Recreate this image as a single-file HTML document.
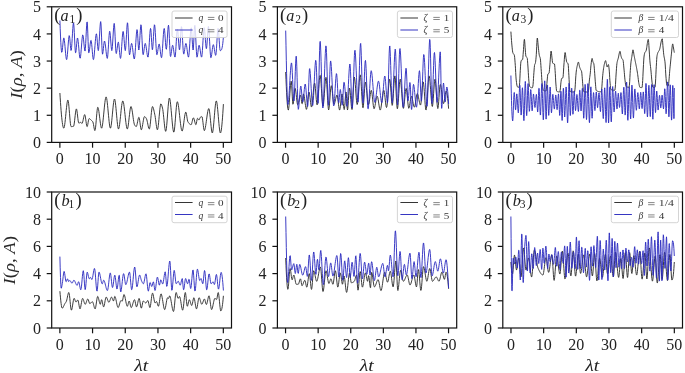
<!DOCTYPE html><html><head><meta charset="utf-8"><style>html,body{margin:0;padding:0;background:#fff;}svg{display:block;will-change:transform;}</style></head><body>
<svg width="685" height="373" viewBox="0 0 685 373" font-family="'Liberation Serif', serif">
<rect width="685" height="373" fill="#fff"/>
<polyline points="59.90,93.00 60.20,97.88 60.50,102.45 60.80,106.69 61.10,110.59 61.40,114.14 61.70,117.32 62.00,120.13 62.30,122.54 62.60,124.54 62.90,126.12 63.20,127.27 63.50,127.96 63.80,128.20 64.10,127.77 64.40,126.57 64.70,124.73 65.00,122.39 65.30,119.67 65.60,116.71 65.90,113.64 66.20,110.59 66.50,107.69 66.80,105.08 67.10,102.89 67.40,101.25 67.70,100.29 68.00,100.18 68.30,101.24 68.60,103.35 68.90,106.25 69.20,109.67 69.50,113.35 69.80,117.03 70.10,120.45 70.40,123.35 70.70,125.46 71.00,126.52 71.30,126.60 71.60,126.59 71.90,126.58 72.20,126.56 72.50,126.53 72.80,126.50 73.10,126.46 73.40,126.42 73.70,126.13 74.00,124.96 74.30,123.07 74.60,120.69 74.90,118.04 75.20,115.36 75.50,112.88 75.80,110.82 76.10,109.42 76.40,108.90 76.70,109.51 77.00,111.12 77.30,113.39 77.60,116.00 77.90,118.61 78.20,120.88 78.50,122.49 78.80,123.10 79.10,123.05 79.40,122.93 79.70,122.78 80.00,122.62 80.30,122.48 80.60,122.41 80.90,122.46 81.20,122.73 81.50,123.07 81.80,123.34 82.10,123.36 82.40,122.88 82.70,121.93 83.00,120.67 83.30,119.24 83.60,117.79 83.90,116.46 84.20,115.39 84.50,114.74 84.80,114.66 85.10,115.49 85.40,117.07 85.70,119.11 86.00,121.35 86.30,123.49 86.60,125.25 86.90,126.36 87.20,126.54 87.50,125.77 87.80,124.35 88.10,122.60 88.40,120.85 88.70,119.43 89.00,118.66 89.30,118.63 89.60,118.75 89.90,118.96 90.20,119.22 90.50,119.51 90.80,119.82 91.10,120.11 91.40,120.37 91.70,120.61 92.00,120.86 92.30,121.15 92.60,121.51 92.90,122.00 93.20,123.05 93.50,124.57 93.80,126.32 94.10,128.04 94.40,129.48 94.70,130.40 95.00,130.52 95.30,129.39 95.60,127.18 95.90,124.20 96.20,120.75 96.50,117.15 96.80,113.70 97.10,110.72 97.40,108.51 97.70,107.38 98.00,107.47 98.30,108.29 98.60,109.69 98.90,111.54 99.20,113.72 99.50,116.11 99.80,118.57 100.10,121.00 100.40,123.26 100.70,125.24 101.00,126.80 101.30,127.83 101.60,128.20 101.90,127.80 102.20,126.68 102.50,124.94 102.80,122.71 103.10,120.09 103.40,117.18 103.70,114.11 104.00,110.99 104.30,107.92 104.60,105.01 104.90,102.39 105.20,100.16 105.50,98.42 105.80,97.30 106.10,96.90 106.40,97.34 106.70,98.56 107.00,100.44 107.30,102.85 107.60,105.67 107.90,108.76 108.20,112.00 108.50,115.27 108.80,118.42 109.10,121.35 109.40,123.91 109.70,125.98 110.00,127.44 110.30,128.15 110.60,128.00 110.90,127.00 111.20,125.30 111.50,123.02 111.80,120.31 112.10,117.30 112.40,114.13 112.70,110.94 113.00,107.87 113.30,105.04 113.60,102.60 113.90,100.69 114.20,99.45 114.50,99.00 114.80,99.48 115.10,100.82 115.40,102.87 115.70,105.48 116.00,108.49 116.30,111.76 116.60,115.12 116.90,118.44 117.20,121.55 117.50,124.31 117.80,126.57 118.10,128.16 118.40,128.94 118.70,128.82 119.00,127.95 119.30,126.44 119.60,124.42 119.90,122.00 120.20,119.30 120.50,116.42 120.80,113.48 121.10,110.60 121.40,107.90 121.70,105.48 122.00,103.46 122.30,101.95 122.60,101.08 122.90,100.94 123.20,101.53 123.50,102.73 123.80,104.45 124.10,106.58 124.40,109.03 124.70,111.70 125.00,114.48 125.30,117.28 125.60,120.00 125.90,122.53 126.20,124.78 126.50,126.65 126.80,128.04 127.10,128.84 127.40,128.95 127.70,128.27 128.00,126.89 128.30,124.96 128.60,122.62 128.90,120.02 129.20,117.29 129.50,114.60 129.80,112.06 130.10,109.85 130.40,108.08 130.70,106.92 131.00,106.50 131.30,106.83 131.60,107.74 131.90,109.13 132.20,110.89 132.50,112.90 132.80,115.06 133.10,117.25 133.40,119.38 133.70,121.33 134.00,122.99 134.30,124.25 134.60,125.00 134.90,125.45 135.20,125.87 135.50,126.21 135.80,126.47 136.10,126.59 136.40,126.45 136.70,125.76 137.00,124.63 137.30,123.23 137.60,121.69 137.90,120.18 138.20,118.85 138.50,117.85 138.80,117.34 139.10,117.55 139.40,118.70 139.70,120.54 140.00,122.77 140.30,125.10 140.60,127.23 140.90,128.87 141.20,129.74 141.50,129.65 141.80,128.93 142.10,127.74 142.40,126.19 142.70,124.43 143.00,122.58 143.30,120.78 143.60,119.15 143.90,117.82 144.20,116.93 144.50,116.60 144.80,116.67 145.10,116.87 145.40,117.17 145.70,117.55 146.00,117.98 146.30,118.44 146.60,119.01 146.90,119.96 147.20,121.20 147.50,122.62 147.80,124.12 148.10,125.59 148.40,126.92 148.70,128.00 149.00,128.73 149.30,129.00 149.60,128.44 149.90,126.92 150.20,124.66 150.50,121.88 150.80,118.80 151.10,115.65 151.40,112.65 151.70,110.02 152.00,107.98 152.30,106.75 152.60,106.53 152.90,106.90 153.20,107.65 153.50,108.69 153.80,109.94 154.10,111.32 154.40,112.76 154.70,114.16 155.00,115.60 155.30,117.50 155.60,119.71 155.90,122.06 156.20,124.38 156.50,126.49 156.80,128.21 157.10,129.37 157.40,129.80 157.70,129.26 158.00,127.77 158.30,125.53 158.60,122.73 158.90,119.57 159.20,116.24 159.50,112.95 159.80,109.89 160.10,107.25 160.40,105.24 160.70,104.04 161.00,103.83 161.30,104.19 161.60,104.91 161.90,105.86 162.20,106.96 162.50,108.10 162.80,109.60 163.10,111.73 163.40,114.33 163.70,117.22 164.00,120.24 164.30,123.21 164.60,125.96 164.90,128.32 165.20,130.12 165.50,131.18 165.80,131.33 166.10,130.31 166.40,128.27 166.70,125.40 167.00,121.93 167.30,118.06 167.60,114.02 167.90,110.02 168.20,106.26 168.50,102.97 168.80,100.35 169.10,98.62 169.40,98.00 169.70,98.46 170.00,99.73 170.30,101.71 170.60,104.24 170.90,107.21 171.20,110.49 171.50,113.93 171.80,117.43 172.10,120.83 172.40,124.02 172.70,126.86 173.00,129.22 173.30,130.98 173.60,131.99 173.90,132.13 174.20,131.10 174.50,129.03 174.80,126.15 175.10,122.70 175.40,118.91 175.70,114.99 176.00,111.20 176.30,107.75 176.60,104.87 176.90,102.80 177.20,101.77 177.50,101.85 177.80,102.59 178.10,103.88 178.40,105.62 178.70,107.74 179.00,110.15 179.30,112.76 179.60,115.48 179.90,118.23 180.20,120.93 180.50,123.48 180.80,125.80 181.10,127.80 181.40,129.41 181.70,130.52 182.00,131.06 182.30,130.94 182.60,130.15 182.90,128.82 183.20,127.06 183.50,125.00 183.80,122.75 184.10,120.45 184.40,118.20 184.70,116.14 185.00,114.38 185.30,113.05 185.60,112.26 185.90,112.16 186.20,112.92 186.50,114.37 186.80,116.21 187.10,118.16 187.40,119.95 187.70,121.29 188.00,121.96 188.30,122.41 188.60,122.83 188.90,123.22 189.20,123.58 189.50,123.89 189.80,124.15 190.10,124.37 190.40,124.53 190.70,124.64 191.00,124.70 191.30,124.55 191.60,123.86 191.90,122.78 192.20,121.47 192.50,120.14 192.80,118.96 193.10,118.12 193.40,117.80 193.70,118.07 194.00,118.80 194.30,119.84 194.60,121.04 194.90,122.27 195.20,123.38 195.50,124.23 195.80,124.67 196.10,124.43 196.40,123.22 196.70,121.50 197.00,119.78 197.30,118.58 197.60,118.32 197.90,118.60 198.20,119.07 198.50,119.56 198.80,119.92 199.10,119.96 199.40,119.45 199.70,118.62 200.00,117.80 200.30,117.30 200.60,117.09 200.90,116.91 201.20,116.76 201.50,116.65 201.80,116.60 202.10,116.88 202.40,118.17 202.70,120.23 203.00,122.73 203.30,125.33 203.60,127.72 203.90,129.56 204.20,130.53 204.50,130.47 204.80,129.85 205.10,128.76 205.40,127.30 205.70,125.54 206.00,123.55 206.30,121.43 206.60,119.23 206.90,117.05 207.20,114.97 207.50,113.05 207.80,111.38 208.10,110.03 208.40,109.09 208.70,108.63 209.00,108.83 209.30,109.95 209.60,111.84 209.90,114.32 210.20,117.19 210.50,120.28 210.80,123.40 211.10,126.36 211.40,128.99 211.70,131.09 212.00,132.49 212.30,133.00 212.60,132.49 212.90,131.05 213.20,128.86 213.50,126.07 213.80,122.84 214.10,119.35 214.40,115.75 214.70,112.20 215.00,108.87 215.30,105.92 215.60,103.51 215.90,101.80 216.20,100.96 216.50,101.12 216.80,102.22 217.10,104.09 217.40,106.59 217.70,109.57 218.00,112.88 218.30,116.36 218.60,119.87 218.90,123.25 219.20,126.36 219.50,129.04 219.80,131.14 220.10,132.51 220.40,133.00 220.70,132.65 221.00,131.63 221.30,129.97 221.60,127.73 221.90,124.93 222.20,121.62 222.50,117.84 222.80,113.64 223.10,109.04 223.40,104.10" fill="none" stroke="#2a2a2a" stroke-width="0.92" stroke-linejoin="round"/>
<polyline points="59.90,20.50 60.20,28.70 60.50,36.04 60.80,42.30 61.10,47.24 61.40,50.65 61.70,52.29 62.00,51.99 62.30,50.13 62.60,47.30 62.90,44.07 63.20,41.03 63.50,38.78 63.80,37.90 64.10,38.60 64.40,40.47 64.70,43.21 65.00,46.48 65.30,49.97 65.60,53.34 65.90,56.29 66.20,58.49 66.50,59.62 66.80,59.32 67.10,57.52 67.40,54.59 67.70,50.92 68.00,46.93 68.30,43.00 68.60,39.54 68.90,36.94 69.20,35.60 69.50,36.02 69.80,38.35 70.10,41.80 70.40,45.53 70.70,48.69 71.00,50.47 71.30,50.05 71.60,47.48 71.90,43.39 72.20,38.43 72.50,33.26 72.80,28.52 73.10,24.86 73.40,22.94 73.70,23.57 74.00,27.12 74.30,32.61 74.60,38.98 74.90,45.17 75.20,50.13 75.50,52.80 75.80,52.53 76.10,50.41 76.40,47.22 76.70,43.68 77.00,40.49 77.30,38.37 77.60,37.99 77.90,39.21 78.20,41.56 78.50,44.66 78.80,48.15 79.10,51.64 79.40,54.74 79.70,57.09 80.00,58.31 80.30,58.03 80.60,56.28 80.90,53.43 81.20,49.88 81.50,46.00 81.80,42.18 82.10,38.82 82.40,36.29 82.70,34.99 83.00,35.28 83.30,37.04 83.60,39.80 83.90,43.05 84.20,46.30 84.50,49.06 84.80,50.82 85.10,51.01 85.40,48.39 85.70,43.53 86.00,37.46 86.30,31.21 86.60,25.83 86.90,22.35 87.20,21.91 87.50,26.00 87.80,33.19 88.10,41.41 88.40,48.60 88.70,52.69 89.00,52.70 89.30,51.33 89.60,49.18 89.90,46.65 90.20,44.12 90.50,41.97 90.80,40.60 91.10,40.40 91.40,41.74 91.70,44.29 92.00,47.60 92.30,51.21 92.60,54.67 92.90,57.52 93.20,59.32 93.50,59.62 93.80,58.44 94.10,56.11 94.40,52.96 94.70,49.28 95.00,45.40 95.30,41.62 95.60,38.26 95.90,35.63 96.20,34.03 96.50,33.84 96.80,35.63 97.10,38.89 97.40,42.82 97.70,46.61 98.00,49.47 98.30,50.60 98.60,49.35 98.90,46.07 99.20,41.42 99.50,36.10 99.80,30.78 100.10,26.13 100.40,22.85 100.70,21.60 101.00,24.01 101.30,30.05 101.60,37.90 101.90,45.75 102.20,51.79 102.50,54.20 102.80,53.40 103.10,51.35 103.40,48.59 103.70,45.65 104.00,43.06 104.30,41.37 104.60,41.06 104.90,41.96 105.20,43.72 105.50,46.07 105.80,48.77 106.10,51.55 106.40,54.16 106.70,56.35 107.00,57.84 107.30,58.40 107.60,57.24 107.90,54.17 108.20,49.83 108.50,44.85 108.80,39.87 109.10,35.53 109.40,32.46 109.70,31.30 110.00,32.37 110.30,35.13 110.60,38.90 110.90,43.00 111.20,46.77 111.50,49.53 111.80,50.60 112.10,49.43 112.40,46.35 112.70,41.99 113.00,37.00 113.30,32.01 113.60,27.65 113.90,24.57 114.20,23.40 114.50,25.23 114.80,29.92 115.10,36.24 115.40,42.97 115.70,48.88 116.00,52.75 116.30,53.52 116.60,52.51 116.90,50.62 117.20,48.26 117.50,45.84 117.80,43.75 118.10,42.39 118.40,42.20 118.70,43.52 119.00,46.00 119.30,49.14 119.60,52.45 119.90,55.42 120.20,57.57 120.50,58.40 120.80,57.40 121.10,54.74 121.40,50.91 121.70,46.41 122.00,41.75 122.30,37.42 122.60,33.92 122.90,31.76 123.20,31.42 123.50,32.98 123.80,35.92 124.10,39.64 124.40,43.55 124.70,47.08 125.00,49.62 125.30,50.60 125.60,49.18 125.90,45.49 126.20,40.38 126.50,34.70 126.80,29.30 127.10,25.04 127.40,22.77 127.70,23.50 128.00,27.63 128.30,33.93 128.60,41.11 128.90,47.84 129.20,52.84 129.50,54.80 129.80,54.17 130.10,52.54 130.40,50.31 130.70,47.89 131.00,45.66 131.30,44.03 131.60,43.40 131.90,43.93 132.20,45.37 132.50,47.44 132.80,49.91 133.10,52.49 133.40,54.96 133.70,57.03 134.00,58.47 134.30,59.00 134.60,58.06 134.90,55.52 135.20,51.82 135.50,47.39 135.80,42.67 136.10,38.10 136.40,34.11 136.70,31.13 137.00,29.61 137.30,30.28 137.60,33.78 137.90,38.85 138.20,44.14 138.50,48.31 138.80,50.00 139.10,48.71 139.40,45.36 139.70,40.73 140.00,35.57 140.30,30.68 140.60,26.81 140.90,24.75 141.20,25.37 141.50,28.92 141.80,34.41 142.10,40.78 142.40,46.97 142.70,51.93 143.00,54.60 143.30,54.51 143.60,53.17 143.90,51.10 144.20,48.69 144.50,46.36 144.80,44.48 145.10,43.48 145.40,43.60 145.70,44.56 146.00,46.14 146.30,48.12 146.60,50.30 146.90,52.48 147.20,54.46 147.50,56.04 147.80,57.00 148.10,57.08 148.40,55.36 148.70,52.04 149.00,47.66 149.30,42.75 149.60,37.84 149.90,33.46 150.20,30.14 150.50,28.42 150.80,29.04 151.10,32.39 151.40,37.35 151.70,42.71 152.00,47.26 152.30,49.81 152.60,49.35 152.90,46.37 153.20,41.75 153.50,36.39 153.80,31.19 154.10,27.01 154.40,24.77 154.70,25.19 155.00,27.99 155.30,32.43 155.60,37.82 155.90,43.44 156.20,48.59 156.50,52.56 156.80,54.65 157.10,54.55 157.40,53.38 157.70,51.55 158.00,49.40 158.30,47.25 158.60,45.42 158.90,44.25 159.20,44.07 159.50,45.02 159.80,46.84 160.10,49.19 160.40,51.76 160.70,54.22 161.00,56.25 161.30,57.53 161.60,57.68 161.90,56.05 162.20,52.88 162.50,48.66 162.80,43.87 163.10,39.00 163.40,34.53 163.70,30.96 164.00,28.76 164.30,28.44 164.60,30.30 164.90,33.77 165.20,38.10 165.50,42.55 165.80,46.38 166.10,48.86 166.40,49.25 166.70,47.29 167.00,43.61 167.30,38.95 167.60,34.04 167.90,29.62 168.20,26.43 168.50,25.20 168.80,27.11 169.10,31.98 169.40,38.55 169.70,45.55 170.00,51.69 170.30,55.72 170.60,56.52 170.90,55.52 171.20,53.64 171.50,51.31 171.80,48.90 172.10,46.83 172.40,45.49 172.70,45.26 173.00,46.09 173.30,47.67 173.60,49.71 173.90,51.95 174.20,54.09 174.50,55.85 174.80,56.96 175.10,57.06 175.40,55.10 175.70,51.38 176.00,46.55 176.30,41.29 176.60,36.24 176.90,32.07 177.20,29.46 177.50,29.04 177.80,30.90 178.10,34.37 178.40,38.70 178.70,43.15 179.00,46.98 179.30,49.46 179.60,49.83 179.90,47.56 180.20,43.38 180.50,38.25 180.80,33.12 181.10,28.94 181.40,26.67 181.70,27.15 182.00,30.14 182.30,34.82 182.60,40.35 182.90,45.88 183.20,50.56 183.50,53.55 183.80,54.14 184.10,53.26 184.40,51.62 184.70,49.53 185.00,47.34 185.30,45.37 185.60,43.95 185.90,43.40 186.20,43.91 186.50,45.27 186.80,47.22 187.10,49.51 187.40,51.88 187.70,54.08 188.00,55.87 188.30,56.97 188.60,57.08 188.90,55.45 189.20,52.28 189.50,48.06 189.80,43.27 190.10,38.40 190.40,33.93 190.70,30.36 191.00,28.16 191.30,27.88 191.60,30.25 191.90,34.55 192.20,39.73 192.50,44.73 192.80,48.51 193.10,50.00 193.40,47.96 193.70,42.91 194.00,36.51 194.30,30.37 194.60,26.15 194.90,25.39 195.20,27.99 195.50,32.86 195.80,39.02 196.10,45.52 196.40,51.36 196.70,55.58 197.00,57.20 197.30,56.54 197.60,54.82 197.90,52.48 198.20,49.92 198.50,47.58 198.80,45.86 199.10,45.20 199.40,45.68 199.70,46.94 200.00,48.75 200.30,50.84 200.60,52.98 200.90,54.90 201.20,56.38 201.50,57.14 201.80,56.70 202.10,54.35 202.40,50.54 202.70,45.83 203.00,40.75 203.30,35.86 203.60,31.69 203.90,28.79 204.20,27.70 204.50,28.77 204.80,31.55 205.10,35.40 205.40,39.68 205.70,43.75 206.00,46.96 206.30,48.67 206.60,48.18 206.90,45.32 207.20,40.95 207.50,35.98 207.80,31.32 208.10,27.85 208.40,26.50 208.70,27.74 209.00,31.04 209.30,35.75 209.60,41.21 209.90,46.78 210.20,51.81 210.50,55.65 210.80,57.65 211.10,57.54 211.40,56.32 211.70,54.38 212.00,52.02 212.30,49.57 212.60,47.31 212.90,45.58 213.20,44.67 213.50,44.81 213.80,45.81 214.10,47.40 214.40,49.33 214.70,51.34 215.00,53.18 215.30,54.60 215.60,55.35 215.90,54.87 216.20,52.36 216.50,48.37 216.80,43.54 217.10,38.49 217.40,33.87 217.70,30.31 218.00,28.44 218.30,28.87 218.60,31.49 218.90,35.54 219.20,40.25 219.50,44.82 219.80,48.48 220.10,50.45 220.40,50.60 220.70,50.55 221.00,50.39 221.30,50.05 221.60,49.46 221.90,48.56 222.20,47.28 222.50,45.55 222.80,43.31 223.10,40.48 223.40,37.00" fill="none" stroke="#2b2bbf" stroke-width="0.92" stroke-linejoin="round"/>
<rect x="51.70" y="6.80" width="179.80" height="135.60" fill="none" stroke="#111" stroke-width="1.2"/>
<line x1="59.87" y1="142.40" x2="59.87" y2="147.70" stroke="#111" stroke-width="1.2"/>
<text x="59.87" y="164.20" font-size="16" text-anchor="middle" fill="#222">0</text>
<line x1="92.56" y1="142.40" x2="92.56" y2="147.70" stroke="#111" stroke-width="1.2"/>
<text x="92.56" y="164.20" font-size="16" text-anchor="middle" fill="#222">10</text>
<line x1="125.25" y1="142.40" x2="125.25" y2="147.70" stroke="#111" stroke-width="1.2"/>
<text x="125.25" y="164.20" font-size="16" text-anchor="middle" fill="#222">20</text>
<line x1="157.95" y1="142.40" x2="157.95" y2="147.70" stroke="#111" stroke-width="1.2"/>
<text x="157.95" y="164.20" font-size="16" text-anchor="middle" fill="#222">30</text>
<line x1="190.64" y1="142.40" x2="190.64" y2="147.70" stroke="#111" stroke-width="1.2"/>
<text x="190.64" y="164.20" font-size="16" text-anchor="middle" fill="#222">40</text>
<line x1="223.33" y1="142.40" x2="223.33" y2="147.70" stroke="#111" stroke-width="1.2"/>
<text x="223.33" y="164.20" font-size="16" text-anchor="middle" fill="#222">50</text>
<line x1="46.70" y1="142.40" x2="51.70" y2="142.40" stroke="#111" stroke-width="1.2"/>
<text x="40.90" y="148.00" font-size="16" text-anchor="end" fill="#222">0</text>
<line x1="46.70" y1="115.28" x2="51.70" y2="115.28" stroke="#111" stroke-width="1.2"/>
<text x="40.90" y="120.88" font-size="16" text-anchor="end" fill="#222">1</text>
<line x1="46.70" y1="88.16" x2="51.70" y2="88.16" stroke="#111" stroke-width="1.2"/>
<text x="40.90" y="93.76" font-size="16" text-anchor="end" fill="#222">2</text>
<line x1="46.70" y1="61.04" x2="51.70" y2="61.04" stroke="#111" stroke-width="1.2"/>
<text x="40.90" y="66.64" font-size="16" text-anchor="end" fill="#222">3</text>
<line x1="46.70" y1="33.92" x2="51.70" y2="33.92" stroke="#111" stroke-width="1.2"/>
<text x="40.90" y="39.52" font-size="16" text-anchor="end" fill="#222">4</text>
<line x1="46.70" y1="6.80" x2="51.70" y2="6.80" stroke="#111" stroke-width="1.2"/>
<text x="40.90" y="12.40" font-size="16" text-anchor="end" fill="#222">5</text>
<text x="54.30" y="21.20" font-size="18.5" fill="#222">(</text>
<text x="60.60" y="20.60" font-size="16.2" font-style="italic" fill="#222">a</text>
<text x="69.50" y="22.70" font-size="11.5" fill="#222">1</text>
<text x="76.20" y="20.60" font-size="18.5" fill="#222">)</text>
<polyline points="285.70,72.00 286.00,79.58 286.30,86.49 286.60,92.66 286.90,98.01 287.20,102.47 287.50,105.98 287.80,108.46 288.10,109.83 288.40,110.00 288.70,108.60 289.00,105.85 289.30,102.14 289.60,97.85 289.90,93.36 290.20,89.07 290.50,85.35 290.80,82.60 291.10,81.20 291.40,81.93 291.70,85.65 292.00,91.11 292.30,96.95 292.60,101.79 292.90,104.26 293.20,103.80 293.50,101.82 293.80,98.89 294.10,95.56 294.40,92.34 294.70,89.78 295.00,88.40 295.30,88.57 295.60,89.88 295.90,91.98 296.20,94.60 296.50,97.41 296.80,100.13 297.10,102.46 297.40,104.09 297.70,104.73 298.00,104.44 298.30,103.61 298.60,102.39 298.90,100.93 299.20,99.37 299.50,97.85 299.80,96.53 300.10,95.54 300.40,95.04 300.70,95.38 301.00,97.05 301.30,99.42 301.60,101.80 301.90,103.48 302.20,103.73 302.50,101.92 302.80,98.94 303.10,95.96 303.40,94.14 303.70,94.20 304.00,95.15 304.30,96.73 304.60,98.74 304.90,100.99 305.20,103.31 305.50,105.49 305.80,107.36 306.10,108.72 306.40,109.40 306.70,109.08 307.00,107.56 307.30,105.15 307.60,102.21 307.90,99.10 308.20,96.18 308.50,93.80 308.80,92.31 309.10,92.07 309.40,93.03 309.70,94.88 310.00,97.30 310.30,99.97 310.60,102.60 310.90,104.87 311.20,106.46 311.50,107.06 311.80,106.44 312.10,104.73 312.40,102.19 312.70,99.08 313.00,95.67 313.30,92.22 313.60,88.98 313.90,86.22 314.20,84.19 314.50,83.17 314.80,83.49 315.10,85.35 315.40,88.33 315.70,91.98 316.00,95.87 316.30,99.55 316.60,102.57 316.90,104.49 317.20,104.86 317.50,103.57 317.80,100.95 318.10,97.35 318.40,93.14 318.70,88.68 319.00,84.33 319.30,80.46 319.60,77.42 319.90,75.58 320.20,75.31 320.50,76.82 320.80,79.78 321.10,83.77 321.40,88.39 321.70,93.21 322.00,97.83 322.30,101.82 322.60,104.78 322.90,106.29 323.20,106.03 323.50,104.24 323.80,101.28 324.10,97.50 324.40,93.26 324.70,88.90 325.00,84.77 325.30,81.23 325.60,78.62 325.90,77.30 326.20,77.74 326.50,80.30 326.80,84.44 327.10,89.59 327.40,95.16 327.70,100.56 328.00,105.21 328.30,108.53 328.60,109.94 328.90,109.27 329.20,107.12 329.50,103.92 329.80,100.07 330.10,96.00 330.40,92.11 330.70,88.83 331.00,86.55 331.30,85.70 331.60,86.34 331.90,88.05 332.20,90.53 332.50,93.48 332.80,96.58 333.10,99.53 333.40,102.02 333.70,103.75 334.00,104.41 334.30,104.15 334.60,103.44 334.90,102.39 335.20,101.11 335.50,99.72 335.80,98.32 336.10,97.04 336.40,95.98 336.70,95.26 337.00,95.00 337.30,95.56 337.60,97.04 337.90,99.17 338.20,101.67 338.50,104.27 338.80,106.68 339.10,108.63 339.40,109.84 339.70,110.02 340.00,108.92 340.30,106.80 340.60,104.06 340.90,101.06 341.20,98.18 341.50,95.81 341.80,94.32 342.10,94.09 342.40,95.30 342.70,97.58 343.00,100.49 343.30,103.58 343.60,106.43 343.90,108.57 344.20,109.58 344.50,108.65 344.80,105.51 345.10,101.21 345.40,96.81 345.70,93.38 346.00,92.00 346.30,93.90 346.60,98.42 346.90,103.80 347.20,108.26 347.50,110.02 347.80,108.61 348.10,105.16 348.40,100.56 348.70,95.68 349.00,91.41 349.30,88.61 349.60,88.10 349.90,89.49 350.20,92.15 350.50,95.63 350.80,99.48 351.10,103.25 351.40,106.49 351.70,108.73 352.00,109.53 352.30,107.93 352.60,103.92 352.90,98.36 353.20,92.10 353.50,86.00 353.80,80.91 354.10,77.69 354.40,77.10 354.70,78.44 355.00,81.07 355.30,84.62 355.60,88.72 355.90,93.00 356.20,97.09 356.50,100.63 356.80,103.24 357.10,104.56 357.40,104.25 357.70,102.39 358.00,99.35 358.30,95.47 358.60,91.13 358.90,86.66 359.20,82.44 359.50,78.82 359.80,76.15 360.10,74.80 360.40,75.19 360.70,77.55 361.00,81.40 361.30,86.23 361.60,91.55 361.90,96.85 362.20,101.62 362.50,105.37 362.80,107.58 363.10,107.77 363.40,105.86 363.70,102.42 364.00,98.01 364.30,93.24 364.60,88.69 364.90,84.95 365.20,82.60 365.50,82.17 365.80,83.11 366.10,84.98 366.40,87.54 366.70,90.54 367.00,93.75 367.30,96.93 367.60,99.83 367.90,102.22 368.20,103.86 368.50,104.51 368.80,104.10 369.10,102.90 369.40,101.13 369.70,98.99 370.00,96.71 370.30,94.49 370.60,92.55 370.90,91.10 371.20,90.35 371.50,90.58 371.80,91.93 372.10,94.12 372.40,96.86 372.70,99.86 373.00,102.83 373.30,105.48 373.60,107.50 373.90,108.60 374.20,108.62 374.50,107.98 374.80,106.87 375.10,105.41 375.40,103.73 375.70,101.96 376.00,100.23 376.30,98.66 376.60,97.38 376.90,96.52 377.20,96.20 377.50,96.59 377.80,97.63 378.10,99.18 378.40,101.06 378.70,103.10 379.00,105.15 379.30,107.04 379.60,108.60 379.90,109.68 380.20,110.09 380.50,109.73 380.80,108.67 381.10,107.06 381.40,105.02 381.70,102.70 382.00,100.25 382.30,97.79 382.60,95.46 382.90,93.41 383.20,91.78 383.50,90.69 383.80,90.30 384.10,90.88 384.40,92.43 384.70,94.67 385.00,97.34 385.30,100.17 385.60,102.87 385.90,105.17 386.20,106.80 386.50,107.49 386.80,106.92 387.10,105.08 387.40,102.27 387.70,98.76 388.00,94.85 388.30,90.83 388.60,86.99 388.90,83.62 389.20,81.00 389.50,79.43 389.80,79.22 390.10,80.84 390.40,83.96 390.70,88.06 391.00,92.64 391.30,97.18 391.60,101.16 391.90,104.07 392.20,105.40 392.50,104.70 392.80,102.15 393.10,98.28 393.40,93.59 393.70,88.59 394.00,83.81 394.30,79.76 394.60,76.95 394.90,75.90 395.20,77.26 395.50,80.85 395.80,85.96 396.10,91.85 396.40,97.81 396.70,103.10 397.00,107.01 397.30,108.81 397.60,108.22 397.90,105.97 398.20,102.51 398.50,98.25 398.80,93.60 399.10,88.99 399.40,84.82 399.70,81.53 400.00,79.52 400.30,79.18 400.60,80.36 400.90,82.70 401.20,85.92 401.50,89.71 401.80,93.79 402.10,97.87 402.40,101.67 402.70,104.88 403.00,107.21 403.30,108.38 403.60,108.15 403.90,106.64 404.20,104.20 404.50,101.14 404.80,97.82 405.10,94.54 405.40,91.66 405.70,89.50 406.00,88.38 406.30,88.61 406.60,90.09 406.90,92.51 407.20,95.52 407.50,98.82 407.80,102.06 408.10,104.93 408.40,107.10 408.70,108.24 409.00,108.15 409.30,107.20 409.60,105.64 409.90,103.70 410.20,101.60 410.50,99.58 410.80,97.85 411.10,96.65 411.40,96.20 411.70,96.51 412.00,97.36 412.30,98.61 412.60,100.13 412.90,101.77 413.20,103.41 413.50,104.91 413.80,106.12 414.10,106.93 414.40,107.18 414.70,106.71 415.00,105.58 415.30,103.96 415.60,102.02 415.90,99.95 416.20,97.91 416.50,96.09 416.80,94.65 417.10,93.78 417.40,93.63 417.70,94.10 418.00,95.02 418.30,96.28 418.60,97.77 418.90,99.38 419.20,100.98 419.50,102.47 419.80,103.73 420.10,104.64 420.40,105.09 420.70,104.73 421.00,102.98 421.30,100.14 421.60,96.61 421.90,92.77 422.20,89.00 422.50,85.67 422.80,83.18 423.10,81.89 423.40,82.22 423.70,84.21 424.00,87.47 424.30,91.57 424.60,96.08 424.90,100.58 425.20,104.64 425.50,107.84 425.80,109.75 426.10,109.96 426.40,108.43 426.70,105.51 427.00,101.56 427.30,96.95 427.60,92.04 427.90,87.21 428.20,82.81 428.50,79.21 428.80,76.79 429.10,75.90 429.40,76.65 429.70,78.70 430.00,81.76 430.30,85.52 430.60,89.69 430.90,93.97 431.20,98.05 431.50,101.65 431.80,104.46 432.10,106.17 432.40,106.49 432.70,105.04 433.00,102.13 433.30,98.20 433.60,93.72 433.90,89.16 434.20,84.97 434.50,81.60 434.80,79.53 435.10,79.21 435.40,80.70 435.70,83.62 436.00,87.54 436.30,92.04 436.60,96.71 436.90,101.11 437.20,104.84 437.50,107.46 437.80,108.56 438.10,107.77 438.40,105.31 438.70,101.69 439.00,97.44 439.30,93.08 439.60,89.13 439.90,86.10 440.20,84.52 440.50,84.61 440.80,85.65 441.10,87.37 441.40,89.60 441.70,92.14 442.00,94.81 442.30,97.43 442.60,99.81 442.90,101.75 443.20,103.08 443.50,103.61 443.80,103.23 444.10,102.09 444.40,100.42 444.70,98.43 445.00,96.32 445.30,94.31 445.60,92.61 445.90,91.44 446.20,91.00 446.50,91.33 446.80,92.29 447.10,93.84 447.40,95.93 447.70,98.50 448.00,101.52 448.30,104.93 448.60,108.70 448.60,108.70" fill="none" stroke="#2a2a2a" stroke-width="0.92" stroke-linejoin="round"/>
<polyline points="285.70,30.60 286.00,45.76 286.30,60.31 286.60,73.70 286.90,85.38 287.20,94.78 287.50,101.36 287.80,104.58 288.10,104.43 288.40,102.59 288.70,99.50 289.00,95.43 289.30,90.68 289.60,85.55 289.90,80.31 290.20,75.28 290.50,70.72 290.80,66.95 291.10,64.24 291.40,62.90 291.70,63.55 292.00,67.08 292.30,72.69 292.60,79.51 292.90,86.64 293.20,93.20 293.50,98.29 293.80,101.02 294.10,100.39 294.40,95.97 294.70,88.89 295.00,80.37 295.30,71.62 295.60,63.86 295.90,58.32 296.20,56.20 296.50,59.17 296.80,66.84 297.10,77.30 297.40,88.67 297.70,99.07 298.00,106.59 298.30,109.35 298.60,108.37 298.90,105.88 299.20,102.36 299.50,98.30 299.80,94.16 300.10,90.43 300.40,87.59 300.70,86.11 301.00,86.48 301.30,88.66 301.60,91.97 301.90,95.68 302.20,99.09 302.50,101.48 302.80,102.14 303.10,101.13 303.40,98.96 303.70,96.04 304.00,92.76 304.30,89.52 304.60,86.72 304.90,84.75 305.20,84.00 305.50,84.92 305.80,87.35 306.10,90.82 306.40,94.82 306.70,98.89 307.00,102.52 307.30,105.23 307.60,106.54 307.90,105.09 308.20,99.54 308.50,91.50 308.80,82.70 309.10,74.84 309.40,69.64 309.70,68.62 310.00,70.28 310.30,73.55 310.60,78.00 310.90,83.20 311.20,88.69 311.50,94.06 311.80,98.87 312.10,102.67 312.40,105.03 312.70,105.52 313.00,103.82 313.30,100.28 313.60,95.34 313.90,89.47 314.20,83.13 314.50,76.77 314.80,70.85 315.10,65.84 315.40,62.18 315.70,60.33 316.00,61.17 316.30,65.67 316.60,72.74 316.90,81.15 317.20,89.65 317.50,97.02 317.80,102.02 318.10,103.36 318.40,98.59 318.70,88.58 319.00,75.65 319.30,62.15 319.60,50.40 319.90,42.76 320.20,41.36 320.50,44.99 320.80,52.03 321.10,61.45 321.40,72.16 321.70,83.10 322.00,93.22 322.30,101.45 322.60,106.72 322.90,108.01 323.20,105.77 323.50,100.95 323.80,94.19 324.10,86.12 324.40,77.38 324.70,68.61 325.00,60.43 325.30,53.50 325.60,48.43 325.90,45.88 326.20,46.88 326.50,52.41 326.80,61.21 327.10,71.88 327.40,83.03 327.70,93.25 328.00,101.14 328.30,105.30 328.60,104.59 328.90,99.76 329.20,92.18 329.50,83.24 329.80,74.29 330.10,66.70 330.40,61.85 330.70,60.93 331.00,62.81 331.30,66.53 331.60,71.62 331.90,77.61 332.20,84.02 332.50,90.38 332.80,96.23 333.10,101.08 333.40,104.47 333.70,105.92 334.00,105.13 334.30,102.48 334.60,98.46 334.90,93.57 335.20,88.31 335.50,83.19 335.80,78.70 336.10,75.35 336.40,73.62 336.70,74.19 337.00,77.39 337.30,82.40 337.60,88.29 337.90,94.16 338.20,99.11 338.50,102.22 338.80,102.66 339.10,100.68 339.40,97.34 339.70,93.67 340.00,90.71 340.30,89.50 340.60,90.58 340.90,93.31 341.20,96.91 341.50,100.61 341.80,103.66 342.10,105.26 342.40,104.43 342.70,100.77 343.00,95.47 343.30,89.79 343.60,84.98 343.90,82.30 344.20,82.44 344.50,84.06 344.80,86.72 345.10,90.08 345.40,93.82 345.70,97.59 346.00,101.06 346.30,103.89 346.60,105.75 346.90,106.30 347.20,104.87 347.50,101.51 347.80,96.71 348.10,90.97 348.40,84.76 348.70,78.59 349.00,72.94 349.30,68.30 349.60,65.16 349.90,64.00 350.20,65.99 350.50,71.22 350.80,78.58 351.10,86.94 351.40,95.20 351.70,102.22 352.00,106.91 352.30,108.14 352.60,105.33 352.90,99.28 353.20,91.00 353.50,81.47 353.80,71.71 354.10,62.72 354.40,55.49 354.70,51.04 355.00,50.26 355.30,52.52 355.60,56.98 355.90,63.07 356.20,70.19 356.50,77.78 356.80,85.23 357.10,91.98 357.40,97.44 357.70,101.02 358.00,102.14 358.30,99.61 358.60,93.62 358.90,85.24 359.20,75.50 359.50,65.46 359.80,56.17 360.10,48.69 360.40,44.07 360.70,43.41 361.00,47.64 361.30,55.70 361.60,66.12 361.90,77.47 362.20,88.28 362.50,97.11 362.80,102.51 363.10,103.19 363.40,100.04 363.70,94.28 364.00,86.91 364.30,78.91 364.60,71.27 364.90,64.98 365.20,61.04 365.50,60.40 365.80,63.20 366.10,68.63 366.40,75.82 366.70,83.94 367.00,92.13 367.30,99.54 367.60,105.32 367.90,108.61 368.20,108.81 368.50,106.94 368.80,103.57 369.10,99.12 369.40,93.96 369.70,88.51 370.00,83.16 370.30,78.31 370.60,74.35 370.90,71.68 371.20,70.70 371.50,71.32 371.80,73.03 372.10,75.62 372.40,78.87 372.70,82.56 373.00,86.46 373.30,90.37 373.60,94.07 373.90,97.33 374.20,99.94 374.50,101.68 374.80,102.33 375.10,101.95 375.40,100.87 375.70,99.21 376.00,97.12 376.30,94.73 376.60,92.18 376.90,89.61 377.20,87.14 377.50,84.93 377.80,83.10 378.10,81.79 378.40,81.15 378.70,81.34 379.00,82.48 379.30,84.39 379.60,86.87 379.90,89.70 380.20,92.69 380.50,95.63 380.80,98.31 381.10,100.54 381.40,102.10 381.70,102.80 382.00,102.32 382.30,100.54 382.60,97.76 382.90,94.29 383.20,90.43 383.50,86.49 383.80,82.77 384.10,79.60 384.40,77.27 384.70,76.08 385.00,76.42 385.30,78.45 385.60,81.73 385.90,85.83 386.20,90.30 386.50,94.68 386.80,98.54 387.10,101.41 387.40,102.86 387.70,101.51 388.00,95.23 388.30,85.54 388.60,74.15 388.90,62.79 389.20,53.17 389.50,47.02 389.80,45.96 390.10,49.56 390.40,56.47 390.70,65.54 391.00,75.62 391.30,85.53 391.60,94.14 391.90,100.28 392.20,102.80 392.50,101.55 392.80,97.80 393.10,92.14 393.40,85.16 393.70,77.47 394.00,69.66 394.30,62.33 394.60,56.07 394.90,51.49 395.20,49.17 395.50,50.30 395.80,56.35 396.10,65.80 396.40,76.97 396.70,88.16 397.00,97.67 397.30,103.82 397.60,104.97 397.90,101.13 398.20,93.69 398.50,84.00 398.80,73.39 399.10,63.21 399.40,54.81 399.70,49.52 400.00,48.55 400.30,50.73 400.60,55.06 400.90,61.05 401.20,68.18 401.50,75.94 401.80,83.83 402.10,91.32 402.40,97.92 402.70,103.11 403.00,106.38 403.30,107.23 403.60,105.60 403.90,102.02 404.20,97.04 404.50,91.21 404.80,85.06 405.10,79.14 405.40,74.01 405.70,70.19 406.00,68.24 406.30,69.17 406.60,74.02 406.90,81.26 407.20,89.20 407.50,96.18 407.80,100.51 408.10,100.88 408.40,98.86 408.70,95.49 409.00,91.46 409.30,87.48 409.60,84.27 409.90,82.53 410.20,83.66 410.50,89.19 410.80,96.91 411.10,104.41 411.40,109.28 411.70,109.52 412.00,106.47 412.30,101.48 412.60,95.67 412.90,90.15 413.20,86.02 413.50,84.40 413.80,85.05 414.10,86.81 414.40,89.40 414.70,92.54 415.00,95.95 415.30,99.35 415.60,102.45 415.90,104.99 416.20,106.67 416.50,107.21 416.80,106.05 417.10,103.19 417.40,99.07 417.70,94.11 418.00,88.74 418.30,83.39 418.60,78.48 418.90,74.44 419.20,71.71 419.50,70.70 419.80,72.78 420.10,78.04 420.40,84.99 420.70,92.15 421.00,98.03 421.30,101.13 421.60,100.24 421.90,95.77 422.20,88.82 422.50,80.46 422.80,71.78 423.10,63.84 423.40,57.74 423.70,54.53 424.00,54.88 424.30,57.70 424.60,62.39 424.90,68.45 425.20,75.37 425.50,82.63 425.80,89.73 426.10,96.16 426.40,101.40 426.70,104.95 427.00,106.29 427.30,104.24 427.60,98.51 427.90,90.11 428.20,80.04 428.50,69.28 428.80,58.85 429.10,49.73 429.40,42.94 429.70,39.45 430.00,40.73 430.30,47.81 430.60,58.85 430.90,71.86 431.20,84.81 431.50,95.71 431.80,102.54 432.10,103.52 432.40,99.82 432.70,92.98 433.00,84.19 433.30,74.65 433.60,65.53 433.90,58.02 434.20,53.30 434.50,52.50 434.80,55.27 435.10,60.66 435.40,67.84 435.70,75.98 436.00,84.27 436.30,91.87 436.60,97.97 436.90,101.74 437.20,102.42 437.50,100.40 437.80,96.36 438.10,90.81 438.40,84.24 438.70,77.17 439.00,70.09 439.30,63.52 439.60,57.95 439.90,53.89 440.20,51.85 440.50,55.25 440.80,70.11 441.10,89.23 441.40,104.50 441.70,108.40 442.00,105.79 442.30,100.88 442.60,94.91 442.90,89.12 443.20,84.74 443.50,83.00 443.80,84.71 444.10,88.87 444.40,94.07 444.70,98.85 445.00,101.80 445.30,101.70 445.60,99.22 445.90,95.45 446.20,91.46 446.50,88.29 446.80,87.00 447.10,87.47 447.40,88.87 447.70,91.21 448.00,94.51 448.30,98.77 448.60,104.00 448.60,104.00" fill="none" stroke="#2b2bbf" stroke-width="0.92" stroke-linejoin="round"/>
<rect x="277.40" y="6.80" width="179.30" height="135.60" fill="none" stroke="#111" stroke-width="1.2"/>
<line x1="285.55" y1="142.40" x2="285.55" y2="147.70" stroke="#111" stroke-width="1.2"/>
<text x="285.55" y="164.20" font-size="16" text-anchor="middle" fill="#222">0</text>
<line x1="318.15" y1="142.40" x2="318.15" y2="147.70" stroke="#111" stroke-width="1.2"/>
<text x="318.15" y="164.20" font-size="16" text-anchor="middle" fill="#222">10</text>
<line x1="350.75" y1="142.40" x2="350.75" y2="147.70" stroke="#111" stroke-width="1.2"/>
<text x="350.75" y="164.20" font-size="16" text-anchor="middle" fill="#222">20</text>
<line x1="383.35" y1="142.40" x2="383.35" y2="147.70" stroke="#111" stroke-width="1.2"/>
<text x="383.35" y="164.20" font-size="16" text-anchor="middle" fill="#222">30</text>
<line x1="415.95" y1="142.40" x2="415.95" y2="147.70" stroke="#111" stroke-width="1.2"/>
<text x="415.95" y="164.20" font-size="16" text-anchor="middle" fill="#222">40</text>
<line x1="448.55" y1="142.40" x2="448.55" y2="147.70" stroke="#111" stroke-width="1.2"/>
<text x="448.55" y="164.20" font-size="16" text-anchor="middle" fill="#222">50</text>
<line x1="272.40" y1="142.40" x2="277.40" y2="142.40" stroke="#111" stroke-width="1.2"/>
<text x="266.60" y="148.00" font-size="16" text-anchor="end" fill="#222">0</text>
<line x1="272.40" y1="115.28" x2="277.40" y2="115.28" stroke="#111" stroke-width="1.2"/>
<text x="266.60" y="120.88" font-size="16" text-anchor="end" fill="#222">1</text>
<line x1="272.40" y1="88.16" x2="277.40" y2="88.16" stroke="#111" stroke-width="1.2"/>
<text x="266.60" y="93.76" font-size="16" text-anchor="end" fill="#222">2</text>
<line x1="272.40" y1="61.04" x2="277.40" y2="61.04" stroke="#111" stroke-width="1.2"/>
<text x="266.60" y="66.64" font-size="16" text-anchor="end" fill="#222">3</text>
<line x1="272.40" y1="33.92" x2="277.40" y2="33.92" stroke="#111" stroke-width="1.2"/>
<text x="266.60" y="39.52" font-size="16" text-anchor="end" fill="#222">4</text>
<line x1="272.40" y1="6.80" x2="277.40" y2="6.80" stroke="#111" stroke-width="1.2"/>
<text x="266.60" y="12.40" font-size="16" text-anchor="end" fill="#222">5</text>
<text x="280.00" y="21.20" font-size="18.5" fill="#222">(</text>
<text x="286.30" y="20.60" font-size="16.2" font-style="italic" fill="#222">a</text>
<text x="295.20" y="22.70" font-size="11.5" fill="#222">2</text>
<text x="301.90" y="20.60" font-size="18.5" fill="#222">)</text>
<polyline points="510.90,31.60 511.10,34.77 511.30,37.74 511.50,40.46 511.70,42.90 511.90,45.06 512.10,47.18 512.30,49.17 512.50,50.85 512.70,52.10 512.90,52.80 513.10,53.26 513.30,53.59 513.50,53.84 513.70,54.07 513.90,54.33 514.10,54.69 514.30,55.18 514.50,55.99 514.70,57.70 514.90,60.07 515.10,62.70 515.30,65.40 515.50,68.78 515.70,72.52 515.90,76.09 516.10,78.98 516.30,80.84 516.50,82.46 516.70,83.93 516.90,85.17 517.10,86.11 517.30,86.68 517.50,86.86 517.70,86.97 517.90,87.06 518.10,87.14 518.30,87.20 518.50,87.25 518.70,87.28 518.90,87.30 519.10,87.17 519.30,86.32 519.50,85.00 519.70,82.35 519.90,78.17 520.10,73.82 520.30,70.32 520.50,66.83 520.70,63.81 520.90,62.00 521.10,61.15 521.30,60.51 521.50,60.11 521.70,59.94 521.90,59.86 522.10,59.81 522.30,59.76 522.50,59.67 522.70,59.26 522.90,57.35 523.10,54.62 523.30,52.00 523.50,49.38 523.70,46.34 523.90,43.34 524.10,40.87 524.30,39.41 524.50,39.46 524.70,41.26 524.90,44.13 525.10,47.30 525.30,50.00 525.50,52.47 525.70,54.84 525.90,56.20 526.10,56.63 526.30,56.89 526.50,57.07 526.70,57.22 526.90,57.42 527.10,57.76 527.30,58.48 527.50,60.45 527.70,63.19 527.90,66.00 528.10,68.98 528.30,72.41 528.50,75.83 528.70,78.81 528.90,81.08 529.10,83.22 529.30,85.06 529.50,86.25 529.70,86.61 529.90,86.80 530.10,86.98 530.30,87.13 530.50,87.27 530.70,87.39 530.90,87.49 531.10,87.58 531.30,87.65 531.50,87.71 531.70,87.75 531.90,87.78 532.10,87.79 532.30,87.80 532.50,87.54 532.70,86.88 532.90,86.00 533.10,84.34 533.30,81.62 533.50,78.42 533.70,75.33 533.90,72.73 534.10,70.01 534.30,67.47 534.50,65.57 534.70,64.64 534.90,64.16 535.10,63.80 535.30,63.34 535.50,62.52 535.70,61.12 535.90,59.26 536.10,57.12 536.30,54.65 536.50,50.93 536.70,46.55 536.90,42.37 537.10,39.23 537.30,38.00 537.50,38.66 537.70,40.34 537.90,42.59 538.10,44.96 538.30,47.00 538.50,48.82 538.70,50.72 538.90,52.54 539.10,54.12 539.30,55.30 539.50,56.06 539.70,56.59 539.90,57.07 540.10,57.65 540.30,58.50 540.50,60.12 540.70,62.62 540.90,65.58 541.10,68.60 541.30,71.40 541.50,74.50 541.70,77.70 541.90,80.68 542.10,83.10 542.30,84.77 542.50,86.26 542.70,87.62 542.90,88.77 543.10,89.65 543.30,90.19 543.50,90.36 543.70,90.46 543.90,90.56 544.10,90.64 544.30,90.72 544.50,90.78 544.70,90.84 544.90,90.88 545.10,90.92 545.30,90.95 545.50,90.98 545.70,90.99 545.90,91.00 546.10,90.81 546.30,89.69 546.50,88.21 546.70,86.06 546.90,83.52 547.10,81.06 547.30,78.97 547.50,76.79 547.70,74.94 547.90,74.00 548.10,73.78 548.30,73.66 548.50,73.58 548.70,73.48 548.90,73.32 549.10,72.89 549.30,71.46 549.50,69.35 549.70,67.06 549.90,64.89 550.10,62.19 550.30,59.15 550.50,56.14 550.70,53.53 550.90,51.70 551.10,51.00 551.30,51.62 551.50,53.17 551.70,55.17 551.90,57.16 552.10,58.83 552.30,60.72 552.50,62.38 552.70,63.20 552.90,63.36 553.10,63.47 553.30,63.53 553.50,63.58 553.70,63.61 553.90,63.66 554.10,63.73 554.30,63.84 554.50,64.00 554.70,65.13 554.90,67.58 555.10,70.56 555.30,73.53 555.50,77.19 555.70,80.97 555.90,84.00 556.10,86.44 556.30,88.73 556.50,90.45 556.70,91.20 556.90,91.32 557.10,91.42 557.30,91.52 557.50,91.60 557.70,91.68 557.90,91.74 558.10,91.80 558.30,91.85 558.50,91.89 558.70,91.92 558.90,91.95 559.10,91.97 559.30,91.99 559.50,92.00 559.70,92.00 559.90,91.81 560.10,90.59 560.30,89.00 560.50,87.16 560.70,84.93 560.90,82.83 561.10,81.25 561.30,79.78 561.50,78.73 561.70,78.40 561.90,78.27 562.10,78.19 562.30,78.13 562.50,78.07 562.70,77.97 562.90,77.80 563.10,76.70 563.30,74.25 563.50,71.06 563.70,67.77 563.90,65.00 564.10,62.47 564.30,59.71 564.50,57.02 564.70,54.72 564.90,53.11 565.10,52.50 565.30,52.99 565.50,54.21 565.70,55.79 565.90,57.35 566.10,58.62 566.30,59.97 566.50,61.20 566.70,62.00 566.90,62.40 567.10,62.66 567.30,62.85 567.50,63.01 567.70,63.22 567.90,63.53 568.10,64.00 568.30,65.62 568.50,68.70 568.70,72.30 568.90,75.74 569.10,79.69 569.30,83.46 569.50,86.42 569.70,89.25 569.90,91.19 570.10,91.53 570.30,91.58 570.50,91.63 570.70,91.68 570.90,91.72 571.10,91.76 571.30,91.79 571.50,91.83 571.70,91.85 571.90,91.88 572.10,91.90 572.30,91.92 572.50,91.94 572.70,91.95 572.90,91.96 573.10,91.97 573.30,91.98 573.50,91.99 573.70,91.99 573.90,92.00 574.10,92.00 574.30,92.00 574.50,92.00 574.70,91.35 574.90,89.85 575.10,87.93 575.30,84.82 575.50,81.20 575.70,78.00 575.90,75.34 576.10,72.91 576.30,71.00 576.50,69.58 576.70,68.37 576.90,67.34 577.10,66.42 577.30,65.57 577.50,64.69 577.70,63.83 577.90,63.06 578.10,62.48 578.30,62.15 578.50,62.17 578.70,62.69 578.90,63.57 579.10,64.63 579.30,65.71 579.50,66.64 579.70,67.30 579.90,67.85 580.10,68.36 580.30,68.83 580.50,69.28 580.70,69.70 580.90,70.04 581.10,70.35 581.30,70.70 581.50,71.18 581.70,72.01 581.90,73.82 582.10,76.26 582.30,78.83 582.50,81.17 582.70,83.73 582.90,86.17 583.10,88.00 583.30,89.35 583.50,90.57 583.70,91.45 583.90,91.80 584.10,91.82 584.30,91.84 584.50,91.86 584.70,91.88 584.90,91.90 585.10,91.91 585.30,91.93 585.50,91.94 585.70,91.95 585.90,91.96 586.10,91.97 586.30,91.97 586.50,91.98 586.70,91.98 586.90,91.99 587.10,91.99 587.30,92.00 587.50,92.00 587.70,92.00 587.90,92.00 588.10,92.00 588.30,91.82 588.50,90.63 588.70,89.00 588.90,86.79 589.10,83.90 589.30,81.11 589.50,79.10 589.70,77.58 589.90,76.21 590.10,74.75 590.30,72.91 590.50,70.58 590.70,68.11 590.90,65.89 591.10,64.19 591.30,62.54 591.50,60.97 591.70,59.65 591.90,58.74 592.10,58.40 592.30,58.76 592.50,59.64 592.70,60.71 592.90,61.67 593.10,62.23 593.30,62.58 593.50,62.89 593.70,63.30 593.90,64.09 594.10,65.81 594.30,68.18 594.50,70.76 594.70,73.26 594.90,76.09 595.10,79.05 595.30,81.80 595.50,84.17 595.70,86.63 595.90,88.83 596.10,90.25 596.30,90.56 596.50,90.69 596.70,90.80 596.90,90.91 597.10,91.01 597.30,91.10 597.50,91.18 597.70,91.26 597.90,91.33 598.10,91.40 598.30,91.46 598.50,91.51 598.70,91.56 598.90,91.60 599.10,91.64 599.30,91.67 599.50,91.70 599.70,91.73 599.90,91.75 600.10,91.76 600.30,91.78 600.50,91.79 600.70,91.79 600.90,91.80 601.10,91.80 601.30,91.63 601.50,90.54 601.70,89.00 601.90,86.84 602.10,83.85 602.30,80.69 602.50,78.00 602.70,75.81 602.90,73.76 603.10,71.89 603.30,70.23 603.50,68.81 603.70,67.52 603.90,66.35 604.10,65.30 604.30,64.40 604.50,63.62 604.70,62.83 604.90,62.08 605.10,61.42 605.30,60.92 605.50,60.64 605.70,60.70 605.90,61.38 606.10,62.42 606.30,63.53 606.50,64.48 606.70,65.60 606.90,66.58 607.10,67.00 607.30,66.84 607.50,66.44 607.70,65.89 607.90,65.32 608.10,64.84 608.30,64.54 608.50,64.63 608.70,65.58 608.90,67.15 609.10,69.04 609.30,71.12 609.50,74.14 609.70,77.60 609.90,80.76 610.10,83.10 610.30,85.35 610.50,87.37 610.70,88.87 610.90,89.50 611.10,89.60 611.30,89.68 611.50,89.77 611.70,89.84 611.90,89.91 612.10,89.97 612.30,90.02 612.50,90.07 612.70,90.11 612.90,90.15 613.10,90.19 613.30,90.21 613.50,90.24 613.70,90.26 613.90,90.27 614.10,90.28 614.30,90.29 614.50,90.30 614.70,90.30 614.90,90.10 615.10,88.82 615.30,87.00 615.50,84.47 615.70,80.99 615.90,77.26 616.10,74.00 616.30,71.13 616.50,68.28 616.70,65.72 616.90,63.72 617.10,62.43 617.30,61.46 617.50,60.67 617.70,59.99 617.90,59.36 618.10,58.72 618.30,58.00 618.50,57.14 618.70,56.15 618.90,55.11 619.10,54.07 619.30,53.11 619.50,52.29 619.70,51.68 619.90,51.35 620.10,51.40 620.30,52.08 620.50,53.18 620.70,54.44 620.90,55.57 621.10,56.37 621.30,57.10 621.50,57.76 621.70,58.29 621.90,58.67 622.10,58.92 622.30,59.10 622.50,59.27 622.70,59.49 622.90,59.79 623.10,60.36 623.30,61.73 623.50,63.68 623.70,65.89 623.90,68.00 624.10,70.11 624.30,72.44 624.50,74.82 624.70,77.10 624.90,79.13 625.10,80.83 625.30,82.56 625.50,84.19 625.70,85.52 625.90,86.34 626.10,86.56 626.30,86.67 626.50,86.77 626.70,86.86 626.90,86.94 627.10,87.01 627.30,87.07 627.50,87.13 627.70,87.17 627.90,87.21 628.10,87.24 628.30,87.27 628.50,87.28 628.70,87.29 628.90,87.30 629.10,87.11 629.30,85.83 629.50,84.00 629.70,81.26 629.90,77.46 630.10,73.62 630.30,70.55 630.50,67.72 630.70,65.12 630.90,62.91 631.10,61.21 631.30,59.87 631.50,58.71 631.70,57.59 631.90,56.34 632.10,54.84 632.30,53.25 632.50,51.76 632.70,50.58 632.90,49.89 633.10,49.90 633.30,50.60 633.50,51.76 633.70,53.13 633.90,54.44 634.10,55.51 634.30,56.52 634.50,57.52 634.70,58.51 634.90,59.51 635.10,60.50 635.30,61.50 635.50,62.47 635.70,63.44 635.90,64.41 636.10,65.40 636.30,66.41 636.50,67.46 636.70,68.55 636.90,69.69 637.10,70.85 637.30,72.06 637.50,73.32 637.70,74.63 637.90,76.02 638.10,77.65 638.30,79.37 638.50,81.03 638.70,82.44 638.90,83.51 639.10,84.52 639.30,85.48 639.50,86.32 639.70,86.96 639.90,87.33 640.10,87.42 640.30,87.46 640.50,87.49 640.70,87.52 640.90,87.54 641.10,87.56 641.30,87.58 641.50,87.59 641.70,87.60 641.90,87.60 642.10,87.36 642.30,85.75 642.50,83.29 642.70,80.51 642.90,76.52 643.10,72.02 643.30,68.00 643.50,64.44 643.70,60.96 643.90,57.99 644.10,56.00 644.30,54.77 644.50,53.79 644.70,53.03 644.90,52.50 645.10,52.14 645.30,51.89 645.50,51.68 645.70,51.47 645.90,51.18 646.10,50.75 646.30,50.00 646.50,48.98 646.70,47.75 646.90,46.39 647.10,44.98 647.30,43.58 647.50,42.27 647.70,41.12 647.90,40.21 648.10,39.62 648.30,39.40 648.50,40.28 648.70,42.55 648.90,45.63 649.10,48.97 649.30,52.00 649.50,54.90 649.70,57.97 649.90,60.80 650.10,63.05 650.30,64.89 650.50,66.54 650.70,68.18 650.90,70.00 651.10,72.15 651.30,74.52 651.50,76.90 651.70,79.06 651.90,80.91 652.10,82.83 652.30,84.67 652.50,86.17 652.70,87.06 652.90,87.22 653.10,87.26 653.30,87.29 653.50,87.31 653.70,87.34 653.90,87.36 654.10,87.37 654.30,87.38 654.50,87.39 654.70,87.40 654.90,87.40 655.10,87.06 655.30,84.89 655.50,82.00 655.70,78.52 655.90,74.18 656.10,69.87 656.30,66.23 656.50,62.62 656.70,59.30 656.90,56.80 657.10,55.43 657.30,54.47 657.50,53.72 657.70,53.11 657.90,52.60 658.10,52.16 658.30,51.80 658.50,51.49 658.70,51.21 658.90,50.92 659.10,50.60 659.30,50.22 659.50,49.74 659.70,49.08 659.90,48.26 660.10,47.32 660.30,46.28 660.50,45.19 660.70,44.08 660.90,42.99 661.10,41.95 661.30,40.99 661.50,40.16 661.70,39.48 661.90,38.99 662.10,38.73 662.30,38.92 662.50,40.43 662.70,42.87 662.90,45.60 663.10,48.00 663.30,50.12 663.50,52.25 663.70,54.18 663.90,55.71 664.10,56.88 664.30,57.86 664.50,58.81 664.70,59.87 664.90,61.19 665.10,63.05 665.30,66.00 665.50,69.56 665.70,73.10 665.90,76.00 666.10,78.49 666.30,81.01 666.50,83.23 666.70,84.84 666.90,85.50 667.10,85.58 667.30,85.64 667.50,85.70 667.70,85.74 667.90,85.77 668.10,85.79 668.30,85.80 668.50,85.52 668.70,83.71 668.90,81.18 669.10,78.86 669.30,76.35 669.50,73.70 669.70,71.16 669.90,68.91 670.10,66.87 670.30,64.92 670.50,62.99 670.70,60.99 670.90,58.92 671.10,56.86 671.30,54.91 671.50,53.08 671.70,51.07 671.90,48.99 672.10,47.05 672.30,45.43 672.50,44.31 672.70,43.90 672.90,44.34 673.10,45.41 673.30,46.75 673.50,48.00 673.70,49.10 673.90,50.24 674.10,51.40 674.30,52.60" fill="none" stroke="#2a2a2a" stroke-width="0.92" stroke-linejoin="round"/>
<polyline points="510.90,75.50 511.10,84.89 511.30,93.23 511.50,100.50 511.70,106.70 511.90,111.81 512.10,115.81 512.30,118.68 512.50,120.42 512.70,121.00 512.90,119.60 513.10,115.95 513.30,110.87 513.50,105.17 513.70,99.68 513.90,95.21 514.10,92.58 514.30,92.48 514.50,94.31 514.70,97.39 514.90,101.09 515.10,104.80 515.30,107.91 515.50,109.79 515.70,109.79 515.90,107.60 516.10,104.01 516.30,99.93 516.50,96.29 516.70,93.98 516.90,93.82 517.10,95.51 517.30,98.45 517.50,102.08 517.70,105.87 517.90,109.29 518.10,111.78 518.30,112.81 518.50,111.61 518.70,108.21 518.90,103.36 519.10,97.87 519.30,92.52 519.50,88.08 519.70,85.35 519.90,85.19 520.10,88.38 520.30,93.95 520.50,100.65 520.70,107.24 520.90,112.46 521.10,115.07 521.30,114.05 521.50,109.99 521.70,104.14 521.90,97.75 522.10,92.06 522.30,88.33 522.50,87.75 522.70,90.44 522.90,95.45 523.10,101.78 523.30,108.44 523.50,114.47 523.70,118.87 523.90,120.66 524.10,118.61 524.30,113.00 524.50,105.24 524.70,96.77 524.90,89.03 525.10,83.44 525.30,81.43 525.50,83.58 525.70,88.76 525.90,95.68 526.10,103.10 526.30,109.73 526.50,114.33 526.70,115.63 526.90,113.31 527.10,108.40 527.30,102.02 527.50,95.24 527.70,89.18 527.90,84.92 528.10,83.56 528.30,85.76 528.50,90.60 528.70,96.82 528.90,103.18 529.10,108.45 529.30,111.36 529.50,111.04 529.70,108.43 529.90,104.38 530.10,99.67 530.30,95.11 530.50,91.47 530.70,89.55 530.90,90.03 531.10,92.68 531.30,96.69 531.50,101.30 531.70,105.72 531.90,109.17 532.10,110.87 532.30,110.26 532.50,107.85 532.70,104.36 532.90,100.52 533.10,97.03 533.30,94.62 533.50,93.98 533.70,94.90 533.90,96.81 534.10,99.32 534.30,102.03 534.50,104.56 534.70,106.51 534.90,107.51 535.10,107.18 535.30,105.63 535.50,103.28 535.70,100.55 535.90,97.87 536.10,95.67 536.30,94.36 536.50,94.51 536.70,96.73 536.90,100.35 537.10,104.53 537.30,108.43 537.50,111.21 537.70,112.02 537.90,110.10 538.10,106.04 538.30,100.84 538.50,95.48 538.70,90.97 538.90,88.30 539.10,88.42 539.30,91.37 539.50,96.22 539.70,101.99 539.90,107.71 540.10,112.39 540.30,115.07 540.50,114.80 540.70,111.56 540.90,106.30 541.10,99.98 541.30,93.56 541.50,88.03 541.70,84.35 541.90,83.50 542.10,86.17 542.30,91.55 542.50,98.51 542.70,105.95 542.90,112.72 543.10,117.71 543.30,119.80 543.50,117.94 543.70,112.64 543.90,105.23 544.10,97.01 544.30,89.33 544.50,83.49 544.70,80.83 544.90,82.42 545.10,87.58 545.30,94.95 545.50,103.16 545.70,110.85 545.90,116.63 546.10,119.14 546.30,117.21 546.50,111.58 546.70,103.90 546.90,95.81 547.10,88.97 547.30,85.00 547.50,85.28 547.70,88.99 547.90,94.86 548.10,101.67 548.30,108.18 548.50,113.16 548.70,115.40 548.90,114.21 549.10,110.48 549.30,105.16 549.50,99.19 549.70,93.55 549.90,89.16 550.10,86.99 550.30,87.93 550.50,91.72 550.70,97.21 550.90,103.22 551.10,108.59 551.30,112.15 551.50,112.82 551.70,111.18 551.90,108.12 552.10,104.30 552.30,100.36 552.50,96.95 552.70,94.74 552.90,94.32 553.10,95.47 553.30,97.66 553.50,100.45 553.70,103.42 553.90,106.13 554.10,108.17 554.30,109.10 554.50,108.59 554.70,106.89 554.90,104.41 555.10,101.58 555.30,98.81 555.50,96.53 555.70,95.15 555.90,95.15 556.10,96.93 556.30,99.91 556.50,103.38 556.70,106.63 556.90,108.96 557.10,109.66 557.30,108.59 557.50,106.27 557.70,103.22 557.90,99.94 558.10,96.95 558.30,94.76 558.50,93.87 558.70,95.35 558.90,99.24 559.10,104.37 559.30,109.56 559.50,113.66 559.70,115.48 559.90,114.00 560.10,109.74 560.30,104.02 560.50,98.15 560.70,93.46 560.90,91.25 561.10,92.88 561.30,98.02 561.50,105.01 561.70,112.20 561.90,117.92 562.10,120.51 562.30,118.73 562.50,113.44 562.70,106.18 562.90,98.52 563.10,92.00 563.30,88.18 563.50,88.38 563.70,91.97 563.90,97.68 564.10,104.27 564.30,110.50 564.50,115.14 564.70,116.96 564.90,115.36 565.10,111.24 565.30,105.56 565.50,99.32 565.70,93.48 565.90,89.04 566.10,86.96 566.30,88.20 566.50,92.49 566.70,98.79 566.90,106.02 567.10,113.11 567.30,119.00 567.50,122.63 567.70,122.89 567.90,119.27 568.10,112.84 568.30,104.88 568.50,96.66 568.70,89.45 568.90,84.53 569.10,83.17 569.30,86.18 569.50,92.35 569.70,100.03 569.90,107.57 570.10,113.29 570.30,115.56 570.50,114.05 570.70,110.16 570.90,104.84 571.10,99.03 571.30,93.69 571.50,89.77 571.70,88.21 571.90,89.91 572.10,94.33 572.30,100.23 572.50,106.35 572.70,111.45 572.90,114.28 573.10,113.81 573.30,110.55 573.50,105.62 573.70,100.10 573.90,95.09 574.10,91.70 574.30,90.98 574.50,92.90 574.70,96.54 574.90,101.01 575.10,105.43 575.30,108.93 575.50,110.62 575.70,110.04 575.90,107.88 576.10,104.76 576.30,101.26 576.50,97.98 576.70,95.51 576.90,94.45 577.10,95.17 577.30,97.31 577.50,100.36 577.70,103.81 577.90,107.15 578.10,109.88 578.30,111.48 578.50,111.39 578.70,109.10 578.90,105.29 579.10,100.71 579.30,96.15 579.50,92.37 579.70,90.16 579.90,90.31 580.10,93.04 580.30,97.40 580.50,102.39 580.70,106.99 580.90,110.18 581.10,110.96 581.30,108.97 581.50,105.04 581.70,100.08 581.90,95.01 582.10,90.77 582.30,88.26 582.50,88.50 582.70,91.98 582.90,97.64 583.10,104.29 583.30,110.74 583.50,115.79 583.70,118.25 583.90,117.05 584.10,112.62 584.30,106.15 584.50,98.87 584.70,92.00 584.90,86.76 585.10,84.37 585.30,85.85 585.50,90.59 585.70,97.37 585.90,104.91 586.10,111.97 586.30,117.27 586.50,119.58 586.70,117.93 586.90,113.02 587.10,106.11 587.30,98.46 587.50,91.31 587.70,85.94 587.90,83.59 588.10,85.13 588.30,89.84 588.50,96.60 588.70,104.31 588.90,111.88 589.10,118.21 589.30,122.18 589.50,122.70 589.70,119.53 589.90,113.72 590.10,106.47 590.30,98.96 590.50,92.39 590.70,87.94 590.90,86.82 591.10,90.00 591.30,96.30 591.50,103.99 591.70,111.35 591.90,116.66 592.10,118.25 592.30,116.57 592.50,112.98 592.70,108.23 592.90,103.06 593.10,98.23 593.30,94.49 593.50,92.58 593.70,93.08 593.90,95.47 594.10,99.03 594.30,103.04 594.50,106.79 594.70,109.54 594.90,110.59 595.10,109.52 595.30,106.80 595.50,103.12 595.70,99.14 595.90,95.52 596.10,92.93 596.30,92.03 596.50,93.23 596.70,95.98 596.90,99.54 597.10,103.18 597.30,106.14 597.50,107.69 597.70,107.34 597.90,105.62 598.10,103.01 598.30,99.98 598.50,96.97 598.70,94.46 598.90,92.91 599.10,92.81 599.30,94.57 599.50,97.70 599.70,101.55 599.90,105.51 600.10,108.93 600.30,111.20 600.50,111.63 600.70,109.54 600.90,105.53 601.10,100.53 601.30,95.49 601.50,91.34 601.70,89.01 601.90,89.38 602.10,92.37 602.30,97.15 602.50,102.88 602.70,108.73 602.90,113.86 603.10,117.43 603.30,118.59 603.50,116.64 603.70,112.16 603.90,106.18 604.10,99.72 604.30,93.83 604.50,89.51 604.70,87.80 604.90,89.78 605.10,94.96 605.30,102.03 605.50,109.66 605.70,116.51 605.90,121.26 606.10,122.57 606.30,118.92 606.50,111.36 606.70,101.75 606.90,91.96 607.10,83.84 607.30,79.28 607.50,80.22 607.70,87.01 607.90,97.22 608.10,108.32 608.30,117.75 608.50,122.98 608.70,122.18 608.90,117.01 609.10,109.29 609.30,100.71 609.50,92.97 609.70,87.80 609.90,86.81 610.10,89.85 610.30,95.57 610.50,102.77 610.70,110.21 610.90,116.69 611.10,120.98 611.30,121.88 611.50,118.99 611.70,113.37 611.90,106.23 612.10,98.77 612.30,92.20 612.50,87.73 612.70,86.53 612.90,88.40 613.10,92.27 613.30,97.29 613.50,102.61 613.70,107.39 613.90,110.77 614.10,111.91 614.30,110.72 614.50,107.92 614.70,104.12 614.90,99.94 615.10,95.98 615.30,92.85 615.50,91.17 615.70,91.46 615.90,93.51 616.10,96.71 616.30,100.46 616.50,104.14 616.70,107.16 616.90,108.90 617.10,108.78 617.30,106.83 617.50,103.72 617.70,100.11 617.90,96.71 618.10,94.19 618.30,93.25 618.50,94.34 618.70,96.96 618.90,100.35 619.10,103.74 619.30,106.36 619.50,107.44 619.70,106.72 619.90,104.80 620.10,102.12 620.30,99.11 620.50,96.21 620.70,93.88 620.90,92.55 621.10,92.81 621.30,95.34 621.50,99.40 621.70,104.15 621.90,108.73 622.10,112.28 622.30,113.94 622.50,113.03 622.70,109.89 622.90,105.30 623.10,100.02 623.30,94.79 623.50,90.39 623.70,87.57 623.90,87.13 624.10,89.85 624.30,94.90 624.50,101.12 624.70,107.33 624.90,112.38 625.10,115.09 625.30,114.45 625.50,110.73 625.70,104.97 625.90,98.20 626.10,91.47 626.30,85.81 626.50,82.26 626.70,82.03 626.90,86.83 627.10,95.15 627.30,104.81 627.50,113.64 627.70,119.47 627.90,120.34 628.10,117.21 628.30,111.57 628.50,104.60 628.70,97.47 628.90,91.37 629.10,87.45 629.30,86.87 629.50,89.74 629.70,95.01 629.90,101.59 630.10,108.37 630.30,114.27 630.50,118.17 630.70,118.95 630.90,115.66 631.10,109.40 631.30,101.69 631.50,94.05 631.70,88.02 631.90,85.12 632.10,86.21 632.30,90.16 632.50,95.96 632.70,102.62 632.90,109.13 633.10,114.52 633.30,117.77 633.50,117.96 633.70,115.13 633.90,110.24 634.10,104.26 634.30,98.18 634.50,92.95 634.70,89.57 634.90,88.95 635.10,90.61 635.30,93.75 635.50,97.78 635.70,102.06 635.90,105.98 636.10,108.93 636.30,110.30 636.50,109.71 636.70,107.62 636.90,104.56 637.10,101.04 637.30,97.57 637.50,94.66 637.70,92.84 637.90,92.59 638.10,93.93 638.30,96.40 638.50,99.52 638.70,102.80 638.90,105.78 639.10,107.97 639.30,108.90 639.50,108.11 639.70,105.79 639.90,102.56 640.10,98.99 640.30,95.70 640.50,93.28 640.70,92.31 640.90,93.22 641.10,95.60 641.30,98.86 641.50,102.39 641.70,105.59 641.90,107.85 642.10,108.59 642.30,107.12 642.50,103.93 642.70,99.91 642.90,95.96 643.10,93.00 643.30,91.91 643.50,93.14 643.70,96.12 643.90,100.18 644.10,104.64 644.30,108.81 644.50,112.04 644.70,113.63 644.90,112.40 645.10,107.59 645.30,100.72 645.50,93.35 645.70,87.06 645.90,83.40 646.10,83.69 646.30,87.28 646.50,93.03 646.70,99.89 646.90,106.78 647.10,112.62 647.30,116.35 647.50,116.91 647.70,114.23 647.90,109.27 648.10,103.03 648.30,96.51 648.50,90.72 648.70,86.65 648.90,85.31 649.10,87.40 649.30,92.18 649.50,98.50 649.70,105.24 649.90,111.25 650.10,115.42 650.30,116.61 650.50,114.18 650.70,109.05 650.90,102.41 651.10,95.44 651.30,89.32 651.50,85.26 651.70,84.47 651.90,88.22 652.10,95.26 652.30,103.73 652.50,111.78 652.70,117.56 652.90,119.22 653.10,115.80 653.30,108.83 653.50,100.28 653.70,92.11 653.90,86.27 654.10,84.67 654.30,86.61 654.50,90.63 654.70,95.89 654.90,101.56 655.10,106.79 655.30,110.74 655.50,112.59 655.70,111.49 655.90,107.78 656.10,102.65 656.30,97.34 656.50,93.07 656.70,91.06 656.90,91.87 657.10,94.51 657.30,98.25 657.50,102.38 657.70,106.20 657.90,108.99 658.10,110.05 658.30,109.25 658.50,107.23 658.70,104.46 658.90,101.41 659.10,98.55 659.30,96.36 659.50,95.30 659.70,95.83 659.90,97.77 660.10,100.55 660.30,103.54 660.50,106.15 660.70,107.77 660.90,107.82 661.10,106.30 661.30,103.75 661.50,100.78 661.70,97.95 661.90,95.85 662.10,95.07 662.30,95.87 662.50,97.83 662.70,100.49 662.90,103.39 663.10,106.06 663.30,108.04 663.50,108.86 663.70,107.67 663.90,104.38 664.10,99.92 664.30,95.21 664.50,91.19 664.70,88.77 664.90,88.89 665.10,91.83 665.30,96.64 665.50,102.28 665.70,107.71 665.90,111.89 666.10,113.78 666.30,112.55 666.50,108.64 666.70,103.00 666.90,96.56 667.10,90.28 667.30,85.10 667.50,81.97 667.70,81.94 667.90,85.90 668.10,92.60 668.30,100.56 668.50,108.25 668.70,114.17 668.90,116.80 669.10,115.04 669.30,109.78 669.50,102.58 669.70,94.97 669.90,88.51 670.10,84.75 670.30,85.05 670.50,89.08 670.70,95.54 670.90,103.16 671.10,110.64 671.30,116.72 671.50,120.12 671.70,119.41 671.90,114.20 672.10,106.28 672.30,97.56 672.50,89.96 672.70,85.39 672.90,85.61 673.10,90.27 673.30,97.64 673.50,105.99 673.70,113.57 673.90,118.64 674.10,116.65 674.30,88.00" fill="none" stroke="#2b2bbf" stroke-width="0.92" stroke-linejoin="round"/>
<rect x="502.80" y="6.80" width="179.70" height="135.60" fill="none" stroke="#111" stroke-width="1.2"/>
<line x1="510.97" y1="142.40" x2="510.97" y2="147.70" stroke="#111" stroke-width="1.2"/>
<text x="510.97" y="164.20" font-size="16" text-anchor="middle" fill="#222">0</text>
<line x1="543.64" y1="142.40" x2="543.64" y2="147.70" stroke="#111" stroke-width="1.2"/>
<text x="543.64" y="164.20" font-size="16" text-anchor="middle" fill="#222">10</text>
<line x1="576.31" y1="142.40" x2="576.31" y2="147.70" stroke="#111" stroke-width="1.2"/>
<text x="576.31" y="164.20" font-size="16" text-anchor="middle" fill="#222">20</text>
<line x1="608.99" y1="142.40" x2="608.99" y2="147.70" stroke="#111" stroke-width="1.2"/>
<text x="608.99" y="164.20" font-size="16" text-anchor="middle" fill="#222">30</text>
<line x1="641.66" y1="142.40" x2="641.66" y2="147.70" stroke="#111" stroke-width="1.2"/>
<text x="641.66" y="164.20" font-size="16" text-anchor="middle" fill="#222">40</text>
<line x1="674.33" y1="142.40" x2="674.33" y2="147.70" stroke="#111" stroke-width="1.2"/>
<text x="674.33" y="164.20" font-size="16" text-anchor="middle" fill="#222">50</text>
<line x1="497.80" y1="142.40" x2="502.80" y2="142.40" stroke="#111" stroke-width="1.2"/>
<text x="492.00" y="148.00" font-size="16" text-anchor="end" fill="#222">0</text>
<line x1="497.80" y1="115.28" x2="502.80" y2="115.28" stroke="#111" stroke-width="1.2"/>
<text x="492.00" y="120.88" font-size="16" text-anchor="end" fill="#222">1</text>
<line x1="497.80" y1="88.16" x2="502.80" y2="88.16" stroke="#111" stroke-width="1.2"/>
<text x="492.00" y="93.76" font-size="16" text-anchor="end" fill="#222">2</text>
<line x1="497.80" y1="61.04" x2="502.80" y2="61.04" stroke="#111" stroke-width="1.2"/>
<text x="492.00" y="66.64" font-size="16" text-anchor="end" fill="#222">3</text>
<line x1="497.80" y1="33.92" x2="502.80" y2="33.92" stroke="#111" stroke-width="1.2"/>
<text x="492.00" y="39.52" font-size="16" text-anchor="end" fill="#222">4</text>
<line x1="497.80" y1="6.80" x2="502.80" y2="6.80" stroke="#111" stroke-width="1.2"/>
<text x="492.00" y="12.40" font-size="16" text-anchor="end" fill="#222">5</text>
<text x="505.40" y="21.20" font-size="18.5" fill="#222">(</text>
<text x="511.70" y="20.60" font-size="16.2" font-style="italic" fill="#222">a</text>
<text x="520.60" y="22.70" font-size="11.5" fill="#222">3</text>
<text x="527.30" y="20.60" font-size="18.5" fill="#222">)</text>
<polyline points="59.90,291.20 60.20,294.62 60.50,297.86 60.80,300.83 61.10,303.43 61.40,305.56 61.70,307.12 62.00,308.02 62.30,308.19 62.60,308.01 62.90,307.65 63.20,307.14 63.50,306.54 63.80,305.88 64.10,305.20 64.40,304.54 64.70,303.94 65.00,303.45 65.30,303.03 65.60,302.63 65.90,302.20 66.20,301.70 66.50,300.99 66.80,299.91 67.10,298.57 67.40,297.10 67.70,295.64 68.00,294.32 68.30,293.27 68.60,292.63 68.90,292.58 69.20,293.63 69.50,295.66 69.80,298.34 70.10,301.35 70.40,304.36 70.70,307.04 71.00,309.07 71.30,310.12 71.60,310.02 71.90,309.14 72.20,307.71 72.50,305.92 72.80,303.97 73.10,302.06 73.40,300.37 73.70,299.10 74.00,298.45 74.30,298.51 74.60,299.02 74.90,299.78 75.20,300.62 75.50,301.38 75.80,301.89 76.10,301.98 76.40,301.75 76.70,301.33 77.00,300.83 77.30,300.38 77.60,300.07 77.90,300.05 78.20,300.78 78.50,302.13 78.80,303.84 79.10,305.65 79.40,307.28 79.70,308.45 80.00,308.90 80.30,308.51 80.60,307.48 80.90,306.00 81.20,304.25 81.50,302.45 81.80,300.77 82.10,299.42 82.40,298.58 82.70,298.43 83.00,298.78 83.30,299.45 83.60,300.35 83.90,301.35 84.20,302.35 84.50,303.25 84.80,303.92 85.10,304.27 85.40,304.21 85.70,303.79 86.00,303.10 86.30,302.26 86.60,301.34 86.90,300.47 87.20,299.72 87.50,299.20 87.80,299.00 88.10,299.28 88.40,299.99 88.70,300.96 89.00,301.98 89.30,302.88 89.60,303.47 89.90,303.59 90.20,303.48 90.50,303.26 90.80,302.97 91.10,302.65 91.40,302.33 91.70,302.04 92.00,301.82 92.30,301.71 92.60,301.81 92.90,302.35 93.20,303.22 93.50,304.31 93.80,305.50 94.10,306.67 94.40,307.70 94.70,308.47 95.00,308.87 95.30,308.69 95.60,307.69 95.90,306.08 96.20,304.08 96.50,301.93 96.80,299.86 97.10,298.09 97.40,296.86 97.70,296.40 98.00,296.69 98.30,297.47 98.60,298.58 98.90,299.90 99.20,301.25 99.50,302.52 99.80,303.54 100.10,304.17 100.40,304.22 100.70,303.26 101.00,301.74 101.30,300.32 101.60,299.70 101.90,300.14 102.20,301.26 102.50,302.76 102.80,304.37 103.10,305.77 103.40,306.70 103.70,306.86 104.00,306.28 104.30,305.15 104.60,303.67 104.90,302.00 105.20,300.33 105.50,298.85 105.80,297.72 106.10,297.14 106.40,297.18 106.70,297.57 107.00,298.20 107.30,298.99 107.60,299.84 107.90,300.69 108.20,301.43 108.50,301.99 108.80,302.28 109.10,302.21 109.40,301.80 109.70,301.13 110.00,300.30 110.30,299.40 110.60,298.54 110.90,297.80 111.20,297.29 111.50,297.10 111.80,297.34 112.10,297.94 112.40,298.76 112.70,299.63 113.00,300.39 113.30,300.89 113.60,300.92 113.90,299.96 114.20,298.44 114.50,297.02 114.80,296.40 115.10,296.66 115.40,297.38 115.70,298.44 116.00,299.77 116.30,301.24 116.60,302.76 116.90,304.23 117.20,305.56 117.50,306.62 117.80,307.34 118.10,307.60 118.40,307.39 118.70,306.81 119.00,305.97 119.30,304.96 119.60,303.87 119.90,302.79 120.20,301.82 120.50,301.06 120.80,300.60 121.10,300.51 121.40,300.68 121.70,300.94 122.00,301.15 122.30,301.14 122.60,300.35 122.90,298.95 123.20,297.29 123.50,295.76 123.80,294.73 124.10,294.53 124.40,294.98 124.70,295.87 125.00,297.09 125.30,298.55 125.60,300.13 125.90,301.73 126.20,303.24 126.50,304.56 126.80,305.57 127.10,306.18 127.40,306.26 127.70,305.69 128.00,304.67 128.30,303.44 128.60,302.25 128.90,301.35 129.20,301.00 129.50,301.40 129.80,302.43 130.10,303.81 130.40,305.28 130.70,306.57 131.00,307.42 131.30,307.58 131.60,307.28 131.90,306.68 132.20,305.86 132.50,304.89 132.80,303.83 133.10,302.76 133.40,301.75 133.70,300.87 134.00,300.19 134.30,299.78 134.60,299.75 134.90,300.45 135.20,301.73 135.50,303.30 135.80,304.87 136.10,306.15 136.40,306.85 136.70,306.76 137.00,306.08 137.30,304.98 137.60,303.62 137.90,302.16 138.20,300.75 138.50,299.55 138.80,298.71 139.10,298.40 139.40,298.90 139.70,300.19 140.00,301.98 140.30,303.97 140.60,305.85 140.90,307.35 141.20,308.14 141.50,308.00 141.80,307.08 142.10,305.67 142.40,304.06 142.70,302.56 143.00,301.44 143.30,301.00 143.60,301.08 143.90,301.29 144.20,301.59 144.50,301.94 144.80,302.30 145.10,302.62 145.40,302.86 145.70,302.99 146.00,302.93 146.30,302.61 146.60,302.12 146.90,301.56 147.20,301.04 147.50,300.65 147.80,300.50 148.10,300.89 148.40,301.91 148.70,303.29 149.00,304.81 149.30,306.19 149.60,307.21 149.90,307.60 150.20,307.07 150.50,305.64 150.80,303.59 151.10,301.18 151.40,298.69 151.70,296.37 152.00,294.50 152.30,293.34 152.60,293.14 152.90,293.73 153.20,294.87 153.50,296.37 153.80,298.05 154.10,299.73 154.40,301.23 154.70,302.37 155.00,302.96 155.30,302.92 155.60,302.56 155.90,302.09 156.20,301.68 156.50,301.50 156.80,301.82 157.10,302.63 157.40,303.71 157.70,304.83 158.00,305.75 158.30,306.26 158.60,306.09 158.90,305.09 159.20,303.48 159.50,301.48 159.80,299.33 160.10,297.26 160.40,295.49 160.70,294.26 161.00,293.80 161.30,294.09 161.60,294.91 161.90,296.15 162.20,297.71 162.50,299.48 162.80,301.38 163.10,303.29 163.40,305.12 163.70,306.76 164.00,308.12 164.30,309.09 164.60,309.57 164.90,309.44 165.20,308.66 165.50,307.38 165.80,305.76 166.10,303.96 166.40,302.13 166.70,300.43 167.00,299.02 167.30,298.06 167.60,297.70 167.90,297.87 168.20,298.22 168.50,298.48 168.80,298.22 169.10,297.15 169.40,296.08 169.70,295.83 170.00,296.26 170.30,297.14 170.60,298.37 170.90,299.87 171.20,301.56 171.50,303.35 171.80,305.15 172.10,306.88 172.40,308.46 172.70,309.79 173.00,310.79 173.30,311.38 173.60,311.42 173.90,310.29 174.20,308.11 174.50,305.23 174.80,302.00 175.10,298.77 175.40,295.89 175.70,293.71 176.00,292.58 176.30,292.67 176.60,293.42 176.90,294.58 177.20,295.89 177.50,297.13 177.80,298.04 178.10,298.40 178.40,298.18 178.70,297.65 179.00,297.05 179.30,296.61 179.60,296.54 179.90,297.09 180.20,298.18 180.50,299.68 180.80,301.45 181.10,303.35 181.40,305.25 181.70,307.02 182.00,308.52 182.30,309.61 182.60,310.16 182.90,309.90 183.20,308.49 183.50,306.20 183.80,303.38 184.10,300.33 184.40,297.39 184.70,294.89 185.00,293.15 185.30,292.50 185.60,293.34 185.90,295.48 186.20,298.37 186.50,301.44 186.80,304.14 187.10,305.91 187.40,306.25 187.70,305.61 188.00,304.44 188.30,303.00 188.60,301.56 188.90,300.39 189.20,299.75 189.50,299.81 189.80,300.35 190.10,301.20 190.40,302.24 190.70,303.32 191.00,304.31 191.30,305.07 191.60,305.47 191.90,305.32 192.20,304.47 192.50,303.16 192.80,301.60 193.10,300.04 193.40,298.73 193.70,297.88 194.00,297.75 194.30,298.41 194.60,299.70 194.90,301.40 195.20,303.30 195.50,305.20 195.80,306.90 196.10,308.19 196.40,308.85 196.70,308.71 197.00,307.82 197.30,306.37 197.60,304.58 197.90,302.66 198.20,300.80 198.50,299.21 198.80,298.11 199.10,297.70 199.40,297.93 199.70,298.53 200.00,299.41 200.30,300.45 200.60,301.55 200.90,302.59 201.20,303.47 201.50,304.07 201.80,304.30 202.10,304.10 202.40,303.58 202.70,302.83 203.00,301.96 203.30,301.04 203.60,300.20 203.90,299.51 204.20,299.09 204.50,299.04 204.80,299.57 205.10,300.55 205.40,301.75 205.70,302.95 206.00,303.93 206.30,304.46 206.60,304.35 206.90,303.66 207.20,302.54 207.50,301.15 207.80,299.65 208.10,298.21 208.40,296.98 208.70,296.12 209.00,295.80 209.30,296.31 209.60,297.67 209.90,299.62 210.20,301.91 210.50,304.28 210.80,306.48 211.10,308.27 211.40,309.37 211.70,309.57 212.00,309.15 212.30,308.30 212.60,307.14 212.90,305.76 213.20,304.25 213.50,302.74 213.80,301.30 214.10,300.06 214.40,299.09 214.70,298.52 215.00,298.41 215.30,298.55 215.60,298.81 215.90,299.09 216.20,299.35 216.50,299.49 216.80,299.20 217.10,297.88 217.40,296.00 217.70,294.12 218.00,292.80 218.30,292.58 218.60,293.67 218.90,295.78 219.20,298.57 219.50,301.70 219.80,304.83 220.10,307.62 220.40,309.73 220.70,310.82 221.00,310.82 221.30,310.39 221.60,309.58 221.90,308.37 222.20,306.74 222.50,304.69 222.80,302.19 223.10,299.23 223.40,295.80" fill="none" stroke="#2a2a2a" stroke-width="0.92" stroke-linejoin="round"/>
<polyline points="59.90,256.60 60.20,267.85 60.50,277.48 60.80,284.56 61.10,288.14 61.40,288.14 61.70,286.95 62.00,285.18 62.30,283.21 62.60,281.39 62.90,279.08 63.20,276.44 63.50,273.96 63.80,272.12 64.10,271.40 64.40,272.03 64.70,273.62 65.00,275.78 65.30,278.07 65.60,280.09 65.90,281.41 66.20,281.66 66.50,281.13 66.80,280.25 67.10,279.37 67.40,278.84 67.70,279.04 68.00,279.97 68.30,281.01 68.60,281.50 68.90,281.34 69.20,281.00 69.50,280.66 69.80,280.50 70.10,280.64 70.40,280.99 70.70,281.49 71.00,282.03 71.30,282.55 71.60,282.96 71.90,283.18 72.20,283.11 72.50,282.69 72.80,282.05 73.10,281.35 73.40,280.71 73.70,280.29 74.00,280.21 74.30,280.42 74.60,280.84 74.90,281.41 75.20,282.08 75.50,282.80 75.80,283.52 76.10,284.19 76.40,284.76 76.70,285.18 77.00,285.39 77.30,285.22 77.60,284.44 77.90,283.37 78.20,282.35 78.50,281.75 78.80,281.89 79.10,282.76 79.40,284.13 79.70,285.75 80.00,287.37 80.30,288.74 80.60,289.61 80.90,289.71 81.20,288.49 81.50,286.15 81.80,283.08 82.10,279.68 82.40,276.34 82.70,273.47 83.00,271.46 83.30,270.70 83.60,271.98 83.90,275.21 84.20,279.50 84.50,283.93 84.80,287.62 85.10,289.65 85.40,289.30 85.70,287.03 86.00,283.57 86.30,279.63 86.60,275.92 86.90,273.18 87.20,272.10 87.50,272.51 87.80,273.55 88.10,274.95 88.40,276.44 88.70,277.75 89.00,278.61 89.30,278.77 89.60,278.41 89.90,277.86 90.20,277.41 90.50,277.33 90.80,277.69 91.10,278.29 91.40,278.93 91.70,279.39 92.00,279.45 92.30,278.79 92.60,277.52 92.90,275.84 93.20,273.95 93.50,272.06 93.80,270.38 94.10,269.11 94.40,268.45 94.70,268.82 95.00,270.78 95.30,273.93 95.60,277.80 95.90,281.90 96.20,285.77 96.50,288.92 96.80,290.88 97.10,291.16 97.40,289.30 97.70,285.89 98.00,281.70 98.30,277.51 98.60,274.10 98.90,272.24 99.20,272.23 99.50,272.87 99.80,273.94 100.10,275.32 100.40,276.90 100.70,278.55 101.00,280.17 101.30,281.62 101.60,282.81 101.90,283.61 102.20,283.90 102.50,283.52 102.80,282.60 103.10,281.50 103.40,280.58 103.70,280.20 104.00,280.39 104.30,280.93 104.60,281.75 104.90,282.77 105.20,283.94 105.50,285.19 105.80,286.45 106.10,287.65 106.40,288.73 106.70,289.62 107.00,290.26 107.30,290.58 107.60,290.36 107.90,289.20 108.20,287.30 108.50,284.89 108.80,282.21 109.10,279.48 109.40,276.96 109.70,274.86 110.00,273.43 110.30,272.90 110.60,273.65 110.90,275.58 111.20,278.27 111.50,281.25 111.80,284.08 112.10,286.32 112.40,287.51 112.70,287.33 113.00,286.08 113.30,284.12 113.60,281.76 113.90,279.34 114.20,277.21 114.50,275.68 114.80,275.10 115.10,275.81 115.40,277.66 115.70,280.21 116.00,283.05 116.30,285.75 116.60,287.88 116.90,289.02 117.20,288.77 117.50,287.26 117.80,284.89 118.10,282.10 118.40,279.31 118.70,276.94 119.00,275.43 119.30,275.32 119.60,278.06 119.90,282.71 120.20,287.62 120.50,291.18 120.80,291.94 121.10,291.05 121.40,289.30 121.70,286.95 122.00,284.22 122.30,281.38 122.60,278.65 122.90,276.30 123.20,274.55 123.50,273.66 123.80,273.86 124.10,275.06 124.40,276.94 124.70,279.15 125.00,281.36 125.30,283.24 125.60,284.44 125.90,284.67 126.20,284.29 126.50,283.52 126.80,282.44 127.10,281.13 127.40,279.67 127.70,278.14 128.00,276.63 128.30,275.22 128.60,273.97 128.90,272.99 129.20,272.34 129.50,272.10 129.80,273.00 130.10,275.33 130.40,278.56 130.70,282.15 131.00,285.56 131.30,288.26 131.60,289.69 131.90,289.51 132.20,288.11 132.50,285.80 132.80,282.85 133.10,279.54 133.40,276.13 133.70,272.91 134.00,270.14 134.30,268.11 134.60,267.07 134.90,267.46 135.20,269.62 135.50,272.98 135.80,276.95 136.10,280.92 136.40,284.28 136.70,286.44 137.00,286.85 137.30,286.19 137.60,284.92 137.90,283.21 138.20,281.28 138.50,279.32 138.80,277.52 139.10,276.07 139.40,275.19 139.70,275.03 140.00,275.49 140.30,276.37 140.60,277.49 140.90,278.71 141.20,279.85 141.50,280.77 141.80,281.42 142.10,282.06 142.40,282.67 142.70,283.20 143.00,283.59 143.30,283.79 143.60,283.63 143.90,282.83 144.20,281.54 144.50,279.94 144.80,278.22 145.10,276.57 145.40,275.15 145.70,274.17 146.00,273.80 146.30,274.61 146.60,276.73 146.90,279.71 147.20,283.07 147.50,286.35 147.80,289.09 148.10,290.83 148.40,291.12 148.70,290.10 149.00,288.28 149.30,286.13 149.60,284.14 149.90,282.80 150.20,282.54 150.50,283.12 150.80,284.13 151.10,285.23 151.40,286.13 151.70,286.50 152.00,286.11 152.30,285.16 152.60,283.94 152.90,282.78 153.20,281.98 153.50,281.90 153.80,283.16 154.10,285.34 154.40,287.75 154.70,289.70 155.00,290.50 155.30,289.92 155.60,288.41 155.90,286.26 156.20,283.80 156.50,281.34 156.80,279.19 157.10,277.68 157.40,277.10 157.70,277.59 158.00,278.85 158.30,280.54 158.60,282.35 158.90,283.93 159.20,284.97 159.50,285.12 159.80,284.13 160.10,282.50 160.40,280.87 160.70,279.88 161.00,279.93 161.30,280.52 161.60,281.41 161.90,282.39 162.20,283.28 162.50,283.87 162.80,283.94 163.10,283.16 163.40,281.67 163.70,279.71 164.00,277.53 164.30,275.40 164.60,273.57 164.90,272.28 165.20,271.80 165.50,273.16 165.80,276.45 166.10,280.52 166.40,284.20 166.70,286.33 167.00,286.18 167.30,284.61 167.60,282.03 167.90,278.73 168.20,275.02 168.50,271.22 168.80,267.61 169.10,264.52 169.40,262.24 169.70,261.08 170.00,261.75 170.30,265.22 170.60,270.58 170.90,276.80 171.20,282.85 171.50,287.70 171.80,290.31 172.10,290.07 172.40,288.06 172.70,284.90 173.00,281.11 173.30,277.22 173.60,273.79 173.90,271.34 174.20,270.40 174.50,271.21 174.80,273.29 175.10,276.10 175.40,279.08 175.70,281.71 176.00,283.42 176.30,283.78 176.60,283.53 176.90,283.07 177.20,282.50 177.50,281.93 177.80,281.47 178.10,281.22 178.40,281.31 178.70,281.82 179.00,282.61 179.30,283.50 179.60,284.34 179.90,284.96 180.20,285.20 180.50,284.79 180.80,283.75 181.10,282.35 181.40,280.86 181.70,279.55 182.00,278.69 182.30,278.67 182.60,280.76 182.90,284.20 183.20,287.64 183.50,289.73 183.80,289.58 184.10,288.12 184.40,285.89 184.70,283.35 185.00,280.96 185.30,279.19 185.60,278.50 185.90,278.82 186.20,279.64 186.50,280.75 186.80,281.93 187.10,282.97 187.40,283.65 187.70,283.73 188.00,282.89 188.30,281.50 188.60,280.11 188.90,279.27 189.20,279.56 189.50,281.14 189.80,283.44 190.10,285.84 190.40,287.73 190.70,288.50 191.00,287.63 191.30,285.35 191.60,282.15 191.90,278.54 192.20,275.01 192.50,272.07 192.80,270.20 193.10,269.96 193.40,272.03 193.70,275.83 194.00,280.50 194.30,285.17 194.60,288.97 194.90,291.04 195.20,290.77 195.50,288.72 195.80,285.47 196.10,281.53 196.40,277.41 196.70,273.64 197.00,270.74 197.30,269.21 197.60,269.34 197.90,270.48 198.20,272.28 198.50,274.43 198.80,276.63 199.10,278.58 199.40,279.97 199.70,280.50 200.00,280.23 200.30,279.62 200.60,278.95 200.90,278.53 201.20,278.68 201.50,279.50 201.80,280.71 202.10,282.02 202.40,283.13 202.70,283.75 203.00,283.34 203.30,281.27 203.60,278.21 203.90,274.90 204.20,272.09 204.50,270.52 204.80,270.90 205.10,273.19 205.40,276.73 205.70,280.85 206.00,284.84 206.30,288.05 206.60,289.77 206.90,289.58 207.20,288.09 207.50,285.73 207.80,282.85 208.10,279.86 208.40,277.11 208.70,274.99 209.00,273.88 209.30,274.08 209.60,275.36 209.90,277.32 210.20,279.55 210.50,281.64 210.80,283.19 211.10,283.80 211.40,283.68 211.70,283.37 212.00,282.95 212.30,282.50 212.60,282.11 212.90,281.86 213.20,281.85 213.50,282.41 213.80,283.31 214.10,284.14 214.40,284.50 214.70,283.89 215.00,282.32 215.30,280.20 215.60,277.96 215.90,275.98 216.20,274.68 216.50,274.50 216.80,275.81 217.10,278.24 217.40,281.27 217.70,284.39 218.00,287.08 218.30,288.82 218.60,289.13 218.90,288.13 219.20,286.20 219.50,283.66 219.80,280.80 220.10,277.94 220.40,275.40 220.70,273.47 221.00,272.47 221.30,272.56 221.60,273.35 221.90,274.80 222.20,276.85 222.50,279.49 222.80,282.66 223.10,286.35 223.40,290.50" fill="none" stroke="#2b2bbf" stroke-width="0.92" stroke-linejoin="round"/>
<rect x="51.70" y="192.00" width="179.80" height="136.00" fill="none" stroke="#111" stroke-width="1.2"/>
<line x1="59.87" y1="328.00" x2="59.87" y2="333.30" stroke="#111" stroke-width="1.2"/>
<text x="59.87" y="349.80" font-size="16" text-anchor="middle" fill="#222">0</text>
<line x1="92.56" y1="328.00" x2="92.56" y2="333.30" stroke="#111" stroke-width="1.2"/>
<text x="92.56" y="349.80" font-size="16" text-anchor="middle" fill="#222">10</text>
<line x1="125.25" y1="328.00" x2="125.25" y2="333.30" stroke="#111" stroke-width="1.2"/>
<text x="125.25" y="349.80" font-size="16" text-anchor="middle" fill="#222">20</text>
<line x1="157.95" y1="328.00" x2="157.95" y2="333.30" stroke="#111" stroke-width="1.2"/>
<text x="157.95" y="349.80" font-size="16" text-anchor="middle" fill="#222">30</text>
<line x1="190.64" y1="328.00" x2="190.64" y2="333.30" stroke="#111" stroke-width="1.2"/>
<text x="190.64" y="349.80" font-size="16" text-anchor="middle" fill="#222">40</text>
<line x1="223.33" y1="328.00" x2="223.33" y2="333.30" stroke="#111" stroke-width="1.2"/>
<text x="223.33" y="349.80" font-size="16" text-anchor="middle" fill="#222">50</text>
<line x1="46.70" y1="328.00" x2="51.70" y2="328.00" stroke="#111" stroke-width="1.2"/>
<text x="40.90" y="333.60" font-size="16" text-anchor="end" fill="#222">0</text>
<line x1="46.70" y1="300.80" x2="51.70" y2="300.80" stroke="#111" stroke-width="1.2"/>
<text x="40.90" y="306.40" font-size="16" text-anchor="end" fill="#222">2</text>
<line x1="46.70" y1="273.60" x2="51.70" y2="273.60" stroke="#111" stroke-width="1.2"/>
<text x="40.90" y="279.20" font-size="16" text-anchor="end" fill="#222">4</text>
<line x1="46.70" y1="246.40" x2="51.70" y2="246.40" stroke="#111" stroke-width="1.2"/>
<text x="40.90" y="252.00" font-size="16" text-anchor="end" fill="#222">6</text>
<line x1="46.70" y1="219.20" x2="51.70" y2="219.20" stroke="#111" stroke-width="1.2"/>
<text x="40.90" y="224.80" font-size="16" text-anchor="end" fill="#222">8</text>
<line x1="46.70" y1="192.00" x2="51.70" y2="192.00" stroke="#111" stroke-width="1.2"/>
<text x="40.90" y="197.60" font-size="16" text-anchor="end" fill="#222">10</text>
<text x="54.30" y="206.40" font-size="18.5" fill="#222">(</text>
<text x="61.60" y="205.80" font-size="16.2" font-style="italic" fill="#222">b</text>
<text x="68.60" y="207.90" font-size="11.5" fill="#222">1</text>
<text x="75.40" y="205.80" font-size="18.5" fill="#222">)</text>
<polyline points="285.70,258.00 286.00,265.45 286.30,272.03 286.60,277.69 286.90,282.32 287.20,285.86 287.50,288.22 287.80,289.32 288.10,288.91 288.40,286.65 288.70,283.12 289.00,278.95 289.30,274.78 289.60,271.25 289.90,268.99 290.20,268.58 290.50,269.68 290.80,271.68 291.10,274.15 291.40,276.62 291.70,278.62 292.00,279.72 292.30,279.62 292.60,278.80 292.90,277.61 293.20,276.37 293.50,275.40 293.80,275.00 294.10,275.37 294.40,276.35 294.70,277.75 295.00,279.37 295.30,281.03 295.60,282.52 295.90,283.66 296.20,284.26 296.50,284.30 296.80,284.30 297.10,284.30 297.40,284.30 297.70,284.30 298.00,284.30 298.30,284.27 298.60,283.86 298.90,283.08 299.20,282.08 299.50,281.02 299.80,280.02 300.10,279.24 300.40,278.83 300.70,279.14 301.00,280.59 301.30,282.59 301.60,284.49 301.90,285.61 302.20,285.62 302.50,285.24 302.80,284.63 303.10,283.85 303.40,283.00 303.70,282.15 304.00,281.37 304.30,280.76 304.60,280.38 304.90,280.35 305.20,281.02 305.50,282.24 305.80,283.75 306.10,285.26 306.40,286.48 306.70,287.15 307.00,286.95 307.30,285.79 307.60,283.91 307.90,281.62 308.20,279.18 308.50,276.89 308.80,275.01 309.10,273.85 309.40,273.69 309.70,274.98 310.00,277.38 310.30,280.43 310.60,283.63 310.90,286.52 311.20,288.60 311.50,289.40 311.80,288.45 312.10,285.99 312.40,282.57 312.70,278.78 313.00,275.17 313.30,272.33 313.60,270.81 313.90,270.84 314.20,271.49 314.50,272.56 314.80,273.93 315.10,275.47 315.40,277.05 315.70,278.55 316.00,279.84 316.30,280.78 316.60,281.27 316.90,281.18 317.20,280.59 317.50,279.58 317.80,278.26 318.10,276.71 318.40,275.02 318.70,273.28 319.00,271.59 319.30,270.04 319.60,268.72 319.90,267.71 320.20,267.12 320.50,267.11 320.80,268.57 321.10,271.39 321.40,275.12 321.70,279.30 322.00,283.48 322.30,287.21 322.60,290.03 322.90,291.49 323.20,291.33 323.50,290.05 323.80,287.93 324.10,285.23 324.40,282.19 324.70,279.07 325.00,276.12 325.30,273.58 325.60,271.72 325.90,270.77 326.20,270.87 326.50,271.71 326.80,273.08 327.10,274.83 327.40,276.77 327.70,278.74 328.00,280.57 328.30,282.08 328.60,283.12 328.90,283.50 329.20,283.21 329.50,282.48 329.80,281.50 330.10,280.45 330.40,279.53 330.70,278.93 331.00,278.84 331.30,279.37 331.60,280.35 331.90,281.55 332.20,282.75 332.50,283.73 332.80,284.26 333.10,284.05 333.40,282.89 333.70,281.01 334.00,278.72 334.30,276.28 334.60,273.99 334.90,272.11 335.20,270.95 335.50,270.78 335.80,271.92 336.10,274.09 336.40,276.91 336.70,279.98 337.00,282.92 337.30,285.35 337.60,286.88 337.90,287.13 338.20,286.22 338.50,284.46 338.80,282.17 339.10,279.62 339.40,277.13 339.70,274.98 340.00,273.47 340.30,272.90 340.60,273.48 340.90,274.98 341.20,277.06 341.50,279.38 341.80,281.57 342.10,283.31 342.40,284.23 342.70,283.89 343.00,282.12 343.30,279.68 343.60,277.37 343.90,276.01 344.20,276.18 344.50,277.50 344.80,279.63 345.10,282.26 345.40,285.10 345.70,287.84 346.00,290.17 346.30,291.79 346.60,292.40 346.90,291.85 347.20,290.37 347.50,288.19 347.80,285.54 348.10,282.65 348.40,279.76 348.70,277.11 349.00,274.93 349.30,273.45 349.60,272.90 349.90,273.72 350.20,275.73 350.50,278.29 350.80,280.73 351.10,282.42 351.40,282.80 351.70,282.77 352.00,282.70 352.30,282.61 352.60,282.48 352.90,282.33 353.20,282.15 353.50,281.94 353.80,281.72 354.10,281.47 354.40,281.18 354.70,280.52 355.00,279.53 355.30,278.36 355.60,277.17 355.90,276.13 356.20,275.38 356.50,275.10 356.80,276.67 357.10,280.42 357.40,284.88 357.70,288.63 358.00,290.20 358.30,289.25 358.60,286.77 358.90,283.34 359.20,279.52 359.50,275.90 359.80,273.04 360.10,271.51 360.40,271.77 360.70,273.48 361.00,276.15 361.30,279.30 361.60,282.45 361.90,285.12 362.20,286.83 362.50,287.15 362.80,286.51 363.10,285.23 363.40,283.49 363.70,281.47 364.00,279.34 364.30,277.26 364.60,275.41 364.90,273.96 365.20,273.08 365.50,272.95 365.80,273.63 366.10,274.91 366.40,276.53 366.70,278.23 367.00,279.77 367.30,280.87 367.60,281.30 367.90,280.05 368.20,277.54 368.50,275.66 368.80,275.89 369.10,277.64 369.40,280.28 369.70,283.22 370.00,285.86 370.30,287.61 370.60,287.63 370.90,283.25 371.20,276.95 371.50,272.57 371.80,272.41 372.10,273.44 372.40,275.11 372.70,277.22 373.00,279.55 373.30,281.88 373.60,283.99 373.90,285.66 374.20,286.69 374.50,286.88 374.80,286.67 375.10,286.22 375.40,285.61 375.70,284.86 376.00,284.03 376.30,283.15 376.60,282.29 376.90,281.48 377.20,280.77 377.50,280.21 377.80,279.83 378.10,279.70 378.40,280.03 378.70,280.91 379.00,282.20 379.30,283.75 379.60,285.43 379.90,287.08 380.20,288.57 380.50,289.74 380.80,290.45 381.10,290.56 381.40,290.00 381.70,288.87 382.00,287.29 382.30,285.38 382.60,283.25 382.90,281.03 383.20,278.82 383.50,276.75 383.80,274.94 384.10,273.49 384.40,272.54 384.70,272.20 385.00,272.52 385.30,273.38 385.60,274.64 385.90,276.14 386.20,277.73 386.50,279.28 386.80,280.64 387.10,281.65 387.40,282.16 387.70,282.04 388.00,281.28 388.30,280.04 388.60,278.47 388.90,276.75 389.20,275.03 389.50,273.46 389.80,272.22 390.10,271.46 390.40,271.36 390.70,272.16 391.00,273.74 391.30,275.85 391.60,278.27 391.90,280.76 392.20,283.10 392.50,285.06 392.80,286.40 393.10,286.90 393.40,286.07 393.70,283.83 394.00,280.57 394.30,276.67 394.60,272.51 394.90,268.48 395.20,264.96 395.50,262.34 395.80,261.00 396.10,261.82 396.40,265.99 396.70,272.26 397.00,279.24 397.30,285.51 397.60,289.68 397.90,290.52 398.20,289.48 398.50,287.43 398.80,284.68 399.10,281.54 399.40,278.29 399.70,275.24 400.00,272.70 400.30,270.95 400.60,270.30 400.90,270.65 401.20,271.60 401.50,272.98 401.80,274.63 402.10,276.39 402.40,278.09 402.70,279.58 403.00,280.69 403.30,281.26 403.60,281.25 403.90,281.00 404.20,280.58 404.50,280.02 404.80,279.36 405.10,278.65 405.40,277.90 405.70,277.17 406.00,276.49 406.30,275.89 406.60,275.42 406.90,275.11 407.20,275.00 407.50,275.32 407.80,276.18 408.10,277.44 408.40,278.94 408.70,280.53 409.00,282.08 409.30,283.44 409.60,284.45 409.90,284.96 410.20,284.92 410.50,284.53 410.80,283.86 411.10,282.97 411.40,281.93 411.70,280.79 412.00,279.61 412.30,278.44 412.60,277.36 412.90,276.42 413.20,275.67 413.50,275.18 413.80,275.00 414.10,275.41 414.40,276.50 414.70,278.09 415.00,279.96 415.30,281.94 415.60,283.81 415.90,285.40 416.20,286.49 416.50,286.90 416.80,285.73 417.10,282.77 417.40,278.84 417.70,274.78 418.00,271.40 418.30,269.54 418.60,269.79 418.90,271.60 419.20,274.52 419.50,278.10 419.80,281.90 420.10,285.48 420.40,288.40 420.70,290.21 421.00,290.50 421.30,289.07 421.60,286.32 421.90,282.68 422.20,278.60 422.50,274.52 422.80,270.88 423.10,268.13 423.40,266.70 423.70,266.75 424.00,267.46 424.30,268.66 424.60,270.22 424.90,272.02 425.20,273.95 425.50,275.88 425.80,277.68 426.10,279.24 426.40,280.44 426.70,281.15 427.00,281.25 427.30,280.59 427.60,279.30 427.90,277.57 428.20,275.58 428.50,273.54 428.80,271.62 429.10,270.01 429.40,268.91 429.70,268.50 430.00,268.91 430.30,270.01 430.60,271.62 430.90,273.54 431.20,275.58 431.50,277.57 431.80,279.30 432.10,280.59 432.40,281.25 432.70,281.26 433.00,281.08 433.30,280.77 433.60,280.36 433.90,279.89 434.20,279.37 434.50,278.83 434.80,278.31 435.10,277.84 435.40,277.43 435.70,277.12 436.00,276.94 436.30,276.92 436.60,277.14 436.90,277.59 437.20,278.18 437.50,278.86 437.80,279.57 438.10,280.23 438.40,280.78 438.70,281.16 439.00,281.30 439.30,281.03 439.60,280.29 439.90,279.21 440.20,277.92 440.50,276.51 440.80,275.13 441.10,273.90 441.40,272.92 441.70,272.32 442.00,272.23 442.30,272.66 442.60,273.48 442.90,274.58 443.20,275.80 443.50,277.02 443.80,278.12 444.10,278.94 444.40,279.37 444.70,279.05 445.00,277.53 445.30,275.44 445.60,273.46 445.90,272.29 446.20,272.29 446.50,272.76 446.80,273.65 447.10,274.98 447.40,276.77 447.70,279.02 448.00,281.77 448.30,285.02 448.60,288.80 448.60,288.80" fill="none" stroke="#2a2a2a" stroke-width="0.92" stroke-linejoin="round"/>
<polyline points="285.70,216.50 286.00,232.57 286.30,247.52 286.60,260.67 286.90,271.34 287.20,278.86 287.50,282.54 287.80,282.30 288.10,279.96 288.40,276.20 288.70,271.60 289.00,266.70 289.30,262.10 289.60,258.34 289.90,256.00 290.20,255.68 290.50,258.04 290.80,262.03 291.10,266.24 291.40,269.30 291.70,269.96 292.00,269.44 292.30,268.47 292.60,267.24 292.90,265.94 293.20,264.77 293.50,263.92 293.80,263.60 294.10,264.63 294.40,267.08 294.70,270.02 295.00,272.47 295.30,273.50 295.60,272.54 295.90,270.26 296.20,267.54 296.50,265.26 296.80,264.30 297.10,265.39 297.40,267.92 297.70,270.82 298.00,272.99 298.30,273.38 298.60,271.89 298.90,269.36 299.20,266.69 299.50,264.75 299.80,264.34 300.10,264.83 300.40,265.80 300.70,267.13 301.00,268.67 301.30,270.29 301.60,271.88 301.90,273.29 302.20,274.39 302.50,275.06 302.80,275.17 303.10,274.75 303.40,273.94 303.70,272.84 304.00,271.56 304.30,270.24 304.60,268.96 304.90,267.86 305.20,267.05 305.50,266.63 305.80,266.94 306.10,268.47 306.40,270.73 306.70,273.17 307.00,275.25 307.30,276.41 307.60,275.83 307.90,272.78 308.20,268.20 308.50,263.10 308.80,258.52 309.10,255.47 309.40,254.95 309.70,257.03 310.00,260.93 310.30,265.86 310.60,271.05 310.90,275.73 311.20,279.10 311.50,280.40 311.80,278.95 312.10,275.18 312.40,269.96 312.70,264.16 313.00,258.64 313.30,254.29 313.60,251.97 313.90,252.33 314.20,254.78 314.50,258.62 314.80,263.15 315.10,267.68 315.40,271.52 315.70,273.97 316.00,274.31 316.30,271.82 316.60,267.61 316.90,263.17 317.20,259.94 317.50,259.34 317.80,261.09 318.10,264.06 318.40,267.20 318.70,269.48 319.00,269.82 319.30,267.51 319.60,263.38 319.90,258.52 320.20,254.02 320.50,250.98 320.80,250.45 321.10,252.50 321.40,256.46 321.70,261.68 322.00,267.55 322.30,273.42 322.60,278.64 322.90,282.60 323.20,284.65 323.50,284.36 323.80,282.29 324.10,278.92 324.40,274.72 324.70,270.13 325.00,265.62 325.30,261.64 325.60,258.65 325.90,257.11 326.20,257.36 326.50,259.05 326.80,261.76 327.10,265.09 327.40,268.61 327.70,271.94 328.00,274.65 328.30,276.34 328.60,276.62 328.90,275.50 329.20,273.40 329.50,270.74 329.80,267.94 330.10,265.42 330.40,263.60 330.70,262.90 331.00,263.56 331.30,265.29 331.60,267.68 331.90,270.34 332.20,272.87 332.50,274.86 332.80,275.92 333.10,275.85 333.40,275.12 333.70,273.87 334.00,272.20 334.30,270.22 334.60,268.04 334.90,265.75 335.20,263.46 335.50,261.28 335.80,259.30 336.10,257.63 336.40,256.38 336.70,255.65 337.00,255.67 337.30,257.96 337.60,262.10 337.90,267.10 338.20,271.92 338.50,275.56 338.80,277.00 339.10,275.41 339.40,271.40 339.70,266.08 340.00,260.58 340.30,256.01 340.60,253.49 340.90,253.99 341.20,257.18 341.50,262.10 341.80,267.82 342.10,273.37 342.40,277.82 342.70,280.22 343.00,279.79 343.30,277.03 343.60,272.86 343.90,268.24 344.20,264.07 344.50,261.31 344.80,260.83 345.10,262.62 345.40,265.86 345.70,269.76 346.00,273.53 346.30,276.38 346.60,277.50 346.90,276.03 347.20,272.37 347.50,267.60 347.80,262.83 348.10,259.17 348.40,257.70 348.70,259.17 349.00,262.83 349.30,267.60 349.60,272.37 349.90,276.03 350.20,277.50 350.50,276.47 350.80,273.86 351.10,270.41 351.40,266.83 351.70,263.86 352.00,262.22 352.30,262.55 352.60,264.60 352.90,267.69 353.20,271.11 353.50,274.20 353.80,276.25 354.10,276.51 354.40,274.02 354.70,269.58 355.00,264.34 355.30,259.50 355.60,256.23 355.90,255.78 356.20,259.41 356.50,265.80 356.80,273.10 357.10,279.49 357.40,283.12 357.70,282.93 358.00,280.69 358.30,277.04 358.60,272.48 358.90,267.51 359.20,262.63 359.50,258.32 359.80,255.09 360.10,253.42 360.40,253.90 360.70,256.67 361.00,260.99 361.30,266.10 361.60,271.21 361.90,275.53 362.20,278.30 362.50,278.80 362.80,277.44 363.10,274.88 363.40,271.64 363.70,268.23 364.00,265.17 364.30,262.95 364.60,262.10 364.90,262.73 365.20,264.36 365.50,266.63 365.80,269.14 366.10,271.53 366.40,273.42 366.70,274.43 367.00,274.14 367.30,272.53 367.60,270.10 367.90,267.40 368.20,264.97 368.50,263.36 368.80,263.20 369.10,265.71 369.40,269.69 369.70,273.38 370.00,275.00 370.30,273.76 370.60,270.76 370.90,267.05 371.20,263.69 371.50,261.75 371.80,261.88 372.10,263.20 372.40,265.37 372.70,268.09 373.00,271.10 373.30,274.11 373.60,276.83 373.90,279.00 374.20,280.32 374.50,280.53 374.80,279.61 375.10,277.85 375.40,275.56 375.70,273.06 376.00,270.67 376.30,268.70 376.60,267.46 376.90,267.29 377.20,268.42 377.50,270.46 377.80,272.86 378.10,275.07 378.40,276.57 378.70,276.88 379.00,276.56 379.30,275.90 379.60,274.97 379.90,273.82 380.20,272.52 380.50,271.11 380.80,269.67 381.10,268.24 381.40,266.90 381.70,265.69 382.00,264.68 382.30,263.93 382.60,263.49 382.90,263.48 383.20,264.58 383.50,266.63 383.80,269.23 384.10,271.97 384.40,274.44 384.70,276.22 385.00,276.90 385.30,276.44 385.60,275.22 385.90,273.47 386.20,271.45 386.50,269.38 386.80,267.52 387.10,266.10 387.40,265.35 387.70,265.89 388.00,268.15 388.30,270.41 388.60,270.86 388.90,268.98 389.20,265.62 389.50,261.67 389.80,258.02 390.10,255.55 390.40,255.08 390.70,256.21 391.00,258.42 391.30,261.38 391.60,264.78 391.90,268.28 392.20,271.57 392.50,274.31 392.80,276.20 393.10,276.90 393.40,274.74 393.70,269.09 394.00,261.18 394.30,252.24 394.60,243.51 394.90,236.21 395.20,231.59 395.50,230.83 395.80,233.96 396.10,239.91 396.40,247.64 396.70,256.07 397.00,264.16 397.30,270.82 397.60,275.01 397.90,275.76 398.20,273.93 398.50,270.45 398.80,265.99 399.10,261.21 399.40,256.75 399.70,253.27 400.00,251.44 400.30,252.10 400.60,255.74 400.90,261.30 401.20,267.62 401.50,273.57 401.80,277.97 402.10,279.70 402.40,278.98 402.70,277.10 403.00,274.47 403.30,271.50 403.60,268.59 403.90,266.17 404.20,264.63 404.50,264.39 404.80,265.52 405.10,267.59 405.40,270.07 405.70,272.47 406.00,274.28 406.30,275.00 406.60,274.59 406.90,273.46 407.20,271.74 407.50,269.58 407.80,267.12 408.10,264.49 408.40,261.84 408.70,259.31 409.00,257.03 409.30,255.15 409.60,253.81 409.90,253.15 410.20,253.89 410.50,257.50 410.80,262.93 411.10,268.97 411.40,274.40 411.70,278.01 412.00,278.70 412.30,277.30 412.60,274.68 412.90,271.37 413.20,267.88 413.50,264.74 413.80,262.47 414.10,261.60 414.40,262.62 414.70,265.21 415.00,268.65 415.30,272.20 415.60,275.15 415.90,276.78 416.20,276.59 416.50,275.07 416.80,272.57 417.10,269.37 417.40,265.78 417.70,262.09 418.00,258.60 418.30,255.61 418.60,253.40 418.90,252.28 419.20,252.99 419.50,256.59 419.80,261.99 420.10,268.01 420.40,273.41 420.70,277.01 421.00,277.65 421.30,275.57 421.60,271.56 421.90,266.25 422.20,260.30 422.50,254.35 422.80,249.04 423.10,245.03 423.40,242.95 423.70,243.40 424.00,246.20 424.30,250.66 424.60,256.06 424.90,261.70 425.20,266.87 425.50,270.86 425.80,272.95 426.10,272.91 426.40,271.98 426.70,270.39 427.00,268.29 427.30,265.82 427.60,263.11 427.90,260.32 428.20,257.56 428.50,255.00 428.80,252.76 429.10,250.99 429.40,249.82 429.70,249.40 430.00,250.54 430.30,253.54 430.60,257.78 430.90,262.65 431.20,267.52 431.50,271.76 431.80,274.76 432.10,275.90 432.40,275.55 432.70,274.58 433.00,273.14 433.30,271.38 433.60,269.42 433.90,267.42 434.20,265.51 434.50,263.83 434.80,262.54 435.10,261.76 435.40,261.64 435.70,262.26 436.00,263.44 436.30,264.98 436.60,266.69 436.90,268.36 437.20,269.81 437.50,270.82 437.80,271.20 438.10,270.74 438.40,269.52 438.70,267.77 439.00,265.71 439.30,263.58 439.60,261.60 439.90,260.00 440.20,259.01 440.50,258.85 440.80,259.49 441.10,260.77 441.40,262.51 441.70,264.53 442.00,266.66 442.30,268.74 442.60,270.59 442.90,272.04 443.20,272.92 443.50,273.04 443.80,272.25 444.10,270.71 444.40,268.68 444.70,266.40 445.00,264.12 445.30,262.09 445.60,260.55 445.90,259.76 446.20,259.91 446.50,260.97 446.80,262.88 447.10,265.56 447.40,268.94 447.70,272.95 448.00,277.53 448.30,282.60 448.60,288.10 448.60,288.10" fill="none" stroke="#2b2bbf" stroke-width="0.92" stroke-linejoin="round"/>
<rect x="277.40" y="192.00" width="179.30" height="136.00" fill="none" stroke="#111" stroke-width="1.2"/>
<line x1="285.55" y1="328.00" x2="285.55" y2="333.30" stroke="#111" stroke-width="1.2"/>
<text x="285.55" y="349.80" font-size="16" text-anchor="middle" fill="#222">0</text>
<line x1="318.15" y1="328.00" x2="318.15" y2="333.30" stroke="#111" stroke-width="1.2"/>
<text x="318.15" y="349.80" font-size="16" text-anchor="middle" fill="#222">10</text>
<line x1="350.75" y1="328.00" x2="350.75" y2="333.30" stroke="#111" stroke-width="1.2"/>
<text x="350.75" y="349.80" font-size="16" text-anchor="middle" fill="#222">20</text>
<line x1="383.35" y1="328.00" x2="383.35" y2="333.30" stroke="#111" stroke-width="1.2"/>
<text x="383.35" y="349.80" font-size="16" text-anchor="middle" fill="#222">30</text>
<line x1="415.95" y1="328.00" x2="415.95" y2="333.30" stroke="#111" stroke-width="1.2"/>
<text x="415.95" y="349.80" font-size="16" text-anchor="middle" fill="#222">40</text>
<line x1="448.55" y1="328.00" x2="448.55" y2="333.30" stroke="#111" stroke-width="1.2"/>
<text x="448.55" y="349.80" font-size="16" text-anchor="middle" fill="#222">50</text>
<line x1="272.40" y1="328.00" x2="277.40" y2="328.00" stroke="#111" stroke-width="1.2"/>
<text x="266.60" y="333.60" font-size="16" text-anchor="end" fill="#222">0</text>
<line x1="272.40" y1="300.80" x2="277.40" y2="300.80" stroke="#111" stroke-width="1.2"/>
<text x="266.60" y="306.40" font-size="16" text-anchor="end" fill="#222">2</text>
<line x1="272.40" y1="273.60" x2="277.40" y2="273.60" stroke="#111" stroke-width="1.2"/>
<text x="266.60" y="279.20" font-size="16" text-anchor="end" fill="#222">4</text>
<line x1="272.40" y1="246.40" x2="277.40" y2="246.40" stroke="#111" stroke-width="1.2"/>
<text x="266.60" y="252.00" font-size="16" text-anchor="end" fill="#222">6</text>
<line x1="272.40" y1="219.20" x2="277.40" y2="219.20" stroke="#111" stroke-width="1.2"/>
<text x="266.60" y="224.80" font-size="16" text-anchor="end" fill="#222">8</text>
<line x1="272.40" y1="192.00" x2="277.40" y2="192.00" stroke="#111" stroke-width="1.2"/>
<text x="266.60" y="197.60" font-size="16" text-anchor="end" fill="#222">10</text>
<text x="280.00" y="206.40" font-size="18.5" fill="#222">(</text>
<text x="287.30" y="205.80" font-size="16.2" font-style="italic" fill="#222">b</text>
<text x="294.30" y="207.90" font-size="11.5" fill="#222">2</text>
<text x="301.10" y="205.80" font-size="18.5" fill="#222">)</text>
<polyline points="510.90,262.00 511.15,265.47 511.40,268.34 511.65,270.63 511.90,272.32 512.15,273.43 512.40,273.95 512.65,273.70 512.90,272.02 513.15,269.28 513.40,265.92 513.65,262.38 513.90,259.10 514.15,256.54 514.40,255.14 514.65,255.24 514.90,256.56 515.15,258.72 515.40,261.38 515.65,264.17 515.90,266.76 516.15,268.78 516.40,269.89 516.65,269.85 516.90,269.04 517.15,267.67 517.40,265.93 517.65,264.00 517.90,262.07 518.15,260.33 518.40,258.96 518.65,258.15 518.90,258.11 519.15,259.29 519.40,261.47 519.65,264.32 519.90,267.50 520.15,270.68 520.40,273.53 520.65,275.71 520.90,276.89 521.15,276.70 521.40,275.01 521.65,272.14 521.90,268.43 522.15,264.24 522.40,259.90 522.65,255.78 522.90,252.21 523.15,249.55 523.40,248.14 523.65,248.23 523.90,249.51 524.15,251.69 524.40,254.50 524.65,257.68 524.90,260.97 525.15,264.10 525.40,266.81 525.65,268.83 525.90,269.90 526.15,269.88 526.40,269.18 526.65,267.99 526.90,266.45 527.15,264.72 527.40,262.93 527.65,261.22 527.90,259.74 528.15,258.64 528.40,258.06 528.65,258.13 528.90,258.87 529.15,260.16 529.40,261.87 529.65,263.90 529.90,266.13 530.15,268.42 530.40,270.66 530.65,272.74 530.90,274.53 531.15,275.92 531.40,276.77 531.65,276.97 531.90,276.14 532.15,274.28 532.40,271.65 532.65,268.46 532.90,264.94 533.15,261.34 533.40,257.87 533.65,254.77 533.90,252.28 534.15,250.61 534.40,250.00 534.65,250.21 534.90,250.81 535.15,251.74 535.40,252.94 535.65,254.36 535.90,255.94 536.15,257.63 536.40,259.36 536.65,261.10 536.90,262.77 537.15,264.33 537.40,265.71 537.65,266.87 537.90,267.74 538.15,268.34 538.40,268.90 538.65,269.46 538.90,269.99 539.15,270.52 539.40,271.02 539.65,271.51 539.90,271.97 540.15,272.41 540.40,272.82 540.65,273.21 540.90,273.56 541.15,273.88 541.40,274.16 541.65,274.41 541.90,274.62 542.15,274.78 542.40,274.90 542.65,274.97 542.90,275.00 543.15,274.68 543.40,273.79 543.65,272.44 543.90,270.74 544.15,268.79 544.40,266.72 544.65,264.63 544.90,262.62 545.15,260.81 545.40,259.30 545.65,258.22 545.90,257.65 546.15,257.74 546.40,258.53 546.65,259.87 546.90,261.62 547.15,263.63 547.40,265.73 547.65,267.78 547.90,269.63 548.15,271.11 548.40,272.08 548.65,272.39 548.90,272.03 549.15,271.13 549.40,269.81 549.65,268.15 549.90,266.27 550.15,264.25 550.40,262.19 550.65,260.21 550.90,258.39 551.15,256.85 551.40,255.67 551.65,254.95 551.90,254.85 552.15,256.14 552.40,258.78 552.65,262.36 552.90,266.46 553.15,270.68 553.40,274.59 553.65,277.79 553.90,279.86 554.15,280.40 554.40,279.51 554.65,277.55 554.90,274.79 555.15,271.50 555.40,267.95 555.65,264.43 555.90,261.19 556.15,258.52 556.40,256.68 556.65,255.94 556.90,256.20 557.15,257.03 557.40,258.31 557.65,259.95 557.90,261.85 558.15,263.90 558.40,266.00 558.65,268.05 558.90,269.95 559.15,271.61 559.40,272.91 559.65,273.76 559.90,274.06 560.15,273.38 560.40,271.59 560.65,268.97 560.90,265.81 561.15,262.38 561.40,258.97 561.65,255.86 561.90,253.32 562.15,251.65 562.40,251.12 562.65,251.97 562.90,254.05 563.15,257.05 563.40,260.67 563.65,264.62 563.90,268.61 564.15,272.32 564.40,275.47 564.65,277.76 564.90,278.89 565.15,278.69 565.40,277.51 565.65,275.53 565.90,272.96 566.15,269.97 566.40,266.76 566.65,263.50 566.90,260.39 567.15,257.62 567.40,255.36 567.65,253.81 567.90,253.15 568.15,253.49 568.40,254.66 568.65,256.50 568.90,258.84 569.15,261.52 569.40,264.38 569.65,267.24 569.90,269.95 570.15,272.33 570.40,274.22 570.65,275.47 570.90,275.89 571.15,275.01 571.40,272.77 571.65,269.54 571.90,265.72 572.15,261.67 572.40,257.78 572.65,254.42 572.90,251.98 573.15,250.84 573.40,251.30 573.65,253.20 573.90,256.16 574.15,259.82 574.40,263.82 574.65,267.79 574.90,271.36 575.15,274.18 575.40,275.88 575.65,276.14 575.90,275.32 576.15,273.71 576.40,271.50 576.65,268.87 576.90,266.00 577.15,263.08 577.40,260.29 577.65,257.81 577.90,255.83 578.15,254.54 578.40,254.11 578.65,254.89 578.90,256.85 579.15,259.61 579.40,262.83 579.65,266.15 579.90,269.22 580.15,271.69 580.40,273.19 580.65,273.44 580.90,272.90 581.15,271.82 581.40,270.32 581.65,268.49 581.90,266.44 582.15,264.28 582.40,262.12 582.65,260.06 582.90,258.21 583.15,256.68 583.40,255.56 583.65,254.97 583.90,255.07 584.15,256.07 584.40,257.85 584.65,260.20 584.90,262.93 585.15,265.85 585.40,268.78 585.65,271.52 585.90,273.89 586.15,275.69 586.40,276.73 586.65,276.84 586.90,276.15 587.15,274.83 587.40,272.98 587.65,270.75 587.90,268.26 588.15,265.63 588.40,263.00 588.65,260.48 588.90,258.22 589.15,256.32 589.40,254.93 589.65,254.17 589.90,254.20 590.15,255.26 590.40,257.17 590.65,259.71 590.90,262.64 591.15,265.76 591.40,268.82 591.65,271.60 591.90,273.87 592.15,275.41 592.40,275.99 592.65,275.23 592.90,273.10 593.15,270.02 593.40,266.38 593.65,262.57 593.90,259.00 594.15,256.05 594.40,254.12 594.65,253.62 594.90,254.84 595.15,257.53 595.40,261.23 595.65,265.53 595.90,269.98 596.15,274.17 596.40,277.67 596.65,280.03 596.90,280.84 597.15,280.24 597.40,278.70 597.65,276.44 597.90,273.68 598.15,270.63 598.40,267.50 598.65,264.51 598.90,261.87 599.15,259.79 599.40,258.50 599.65,258.19 599.90,258.80 600.15,260.14 600.40,262.03 600.65,264.31 600.90,266.82 601.15,269.38 601.40,271.84 601.65,274.03 601.90,275.78 602.15,276.93 602.40,277.31 602.65,276.82 602.90,275.58 603.15,273.73 603.40,271.42 603.65,268.81 603.90,266.03 604.15,263.24 604.40,260.59 604.65,258.22 604.90,256.28 605.15,254.93 605.40,254.30 605.65,254.80 605.90,256.80 606.15,259.84 606.40,263.45 606.65,267.13 606.90,270.40 607.15,272.78 607.40,273.79 607.65,273.53 607.90,272.70 608.15,271.39 608.40,269.72 608.65,267.80 608.90,265.73 609.15,263.62 609.40,261.57 609.65,259.69 609.90,258.08 610.15,256.86 610.40,256.13 610.65,256.01 610.90,256.75 611.15,258.28 611.40,260.42 611.65,262.97 611.90,265.76 612.15,268.59 612.40,271.29 612.65,273.67 612.90,275.54 613.15,276.72 613.40,277.00 613.65,275.71 613.90,272.91 614.15,269.11 614.40,264.79 614.65,260.46 614.90,256.60 615.15,253.70 615.40,252.26 615.65,252.43 615.90,253.47 616.15,255.18 616.40,257.43 616.65,260.07 616.90,262.95 617.15,265.92 617.40,268.83 617.65,271.54 617.90,273.90 618.15,275.77 618.40,276.99 618.65,277.41 618.90,276.73 619.15,274.96 619.40,272.41 619.65,269.39 619.90,266.23 620.15,263.25 620.40,260.75 620.65,259.05 620.90,258.48 621.15,259.30 621.40,261.32 621.65,264.17 621.90,267.50 622.15,270.93 622.40,274.12 622.65,276.69 622.90,278.28 623.15,278.52 623.40,277.09 623.65,274.28 623.90,270.55 624.15,266.30 624.40,261.98 624.65,258.02 624.90,254.84 625.15,252.88 625.40,252.56 625.65,253.98 625.90,256.76 626.15,260.44 626.40,264.61 626.65,268.83 626.90,272.65 627.15,275.66 627.40,277.40 627.65,277.45 627.90,275.63 628.15,272.41 628.40,268.30 628.65,263.82 628.90,259.50 629.15,255.85 629.40,253.39 629.65,252.64 629.90,253.54 630.15,255.64 630.40,258.56 630.65,261.95 630.90,265.45 631.15,268.72 631.40,271.39 631.65,273.10 631.90,273.51 632.15,272.41 632.40,270.14 632.65,267.12 632.90,263.78 633.15,260.53 633.40,257.80 633.65,256.03 633.90,255.60 634.15,256.23 634.40,257.58 634.65,259.48 634.90,261.78 635.15,264.30 635.40,266.89 635.65,269.38 635.90,271.61 636.15,273.41 636.40,274.63 636.65,275.09 636.90,274.67 637.15,273.42 637.40,271.52 637.65,269.12 637.90,266.38 638.15,263.47 638.40,260.54 638.65,257.76 638.90,255.28 639.15,253.27 639.40,251.89 639.65,251.30 639.90,251.89 640.15,253.96 640.40,257.13 640.65,261.03 640.90,265.30 641.15,269.56 641.40,273.45 641.65,276.59 641.90,278.61 642.15,279.15 642.40,278.34 642.65,276.52 642.90,273.93 643.15,270.79 643.40,267.34 643.65,263.81 643.90,260.43 644.15,257.42 644.40,255.03 644.65,253.49 644.90,253.02 645.15,254.35 645.40,257.44 645.65,261.67 645.90,266.44 646.15,271.16 646.40,275.21 646.65,278.01 646.90,278.95 647.15,277.82 647.40,275.07 647.65,271.14 647.90,266.49 648.15,261.56 648.40,256.79 648.65,252.64 648.90,249.55 649.15,247.96 649.40,248.11 649.65,249.39 649.90,251.56 650.15,254.45 650.40,257.86 650.65,261.60 650.90,265.49 651.15,269.32 651.40,272.92 651.65,276.09 651.90,278.64 652.15,280.39 652.40,281.15 652.65,280.75 652.90,279.29 653.15,276.99 653.40,274.10 653.65,270.83 653.90,267.41 654.15,264.07 654.40,261.04 654.65,258.54 654.90,256.80 655.15,256.06 655.40,256.85 655.65,259.51 655.90,263.46 656.15,268.15 656.40,272.99 656.65,277.43 656.90,280.89 657.15,282.80 657.40,282.79 657.65,281.49 657.90,279.23 658.15,276.25 658.40,272.77 658.65,269.03 658.90,265.29 659.15,261.76 659.40,258.69 659.65,256.32 659.90,254.88 660.15,254.66 660.40,256.25 660.65,259.40 660.90,263.53 661.15,268.09 661.40,272.52 661.65,276.26 661.90,278.75 662.15,279.44 662.40,278.43 662.65,276.19 662.90,273.02 663.15,269.26 663.40,265.23 663.65,261.25 663.90,257.64 664.15,254.74 664.40,252.85 664.65,252.30 664.90,253.08 665.15,254.90 665.40,257.53 665.65,260.74 665.90,264.31 666.15,268.01 666.40,271.62 666.65,274.91 666.90,277.65 667.15,279.62 667.40,280.59 667.65,280.27 667.90,278.53 668.15,275.70 668.40,272.13 668.65,268.16 668.90,264.14 669.15,260.42 669.40,257.36 669.65,255.28 669.90,254.55 670.15,255.70 670.40,258.59 670.65,262.65 670.90,267.29 671.15,271.92 671.40,275.98 671.65,278.87 671.90,280.02 672.15,279.91 672.40,279.53 672.65,278.82 672.90,277.74 673.15,276.22 673.40,274.20 673.65,271.64 673.90,268.47 674.15,264.64 674.30,262.00" fill="none" stroke="#2a2a2a" stroke-width="0.92" stroke-linejoin="round"/>
<polyline points="510.90,216.50 511.10,238.32 511.30,257.53 511.50,273.25 511.70,284.60 511.90,290.70 512.10,290.84 512.30,286.27 512.50,278.90 512.70,270.60 512.90,263.23 513.10,258.66 513.30,258.12 513.50,258.94 513.70,260.26 513.90,261.74 514.10,263.06 514.30,263.88 514.50,263.90 514.70,263.17 514.90,261.96 515.10,260.50 515.30,259.04 515.50,257.83 515.70,257.10 515.90,257.14 516.10,258.14 516.30,259.85 516.50,261.95 516.70,264.13 516.90,266.07 517.10,267.47 517.30,268.00 517.50,267.13 517.70,264.84 517.90,261.66 518.10,258.10 518.30,254.67 518.50,251.87 518.70,250.23 518.90,250.38 519.10,253.12 519.30,257.78 519.50,263.50 519.70,269.44 519.90,274.74 520.10,278.54 520.30,280.00 520.50,277.74 520.70,271.84 520.90,263.63 521.10,254.43 521.30,245.56 521.50,238.34 521.70,234.09 521.90,234.22 522.10,239.34 522.30,247.93 522.50,258.25 522.70,268.57 522.90,277.16 523.10,282.28 523.30,282.58 523.50,279.54 523.70,274.32 523.90,267.83 524.10,260.96 524.30,254.60 524.50,249.66 524.70,246.67 524.90,244.03 525.10,241.54 525.30,239.32 525.50,237.47 525.70,236.12 525.90,235.39 526.10,235.86 526.30,239.89 526.50,246.56 526.70,254.45 526.90,262.11 527.10,268.12 527.30,271.04 527.50,269.89 527.70,265.62 527.90,259.50 528.10,252.78 528.30,246.73 528.50,242.59 528.70,241.60 528.90,243.96 529.10,248.68 529.30,254.76 529.50,261.22 529.70,267.06 529.90,271.29 530.10,272.92 530.30,272.17 530.50,270.19 530.70,267.36 530.90,264.07 531.10,260.68 531.30,257.59 531.50,255.18 531.70,253.82 531.90,253.90 532.10,255.44 532.30,257.97 532.50,261.02 532.70,264.09 532.90,266.70 533.10,268.35 533.30,268.53 533.50,266.71 533.70,263.36 533.90,259.16 534.10,254.81 534.30,250.97 534.50,248.33 534.70,247.54 534.90,248.48 535.10,250.57 535.30,253.40 535.50,256.62 535.70,259.82 535.90,262.64 536.10,264.69 536.30,265.58 536.50,264.87 536.70,262.68 536.90,259.72 537.10,256.66 537.30,254.20 537.50,253.02 537.70,253.55 537.90,255.30 538.10,257.73 538.30,260.28 538.50,262.40 538.70,263.56 538.90,263.24 539.10,261.54 539.30,258.93 539.50,255.93 539.70,253.01 539.90,250.68 540.10,249.43 540.30,249.78 540.50,251.78 540.70,254.94 540.90,258.71 541.10,262.57 541.30,266.00 541.50,268.45 541.70,269.40 541.90,267.85 542.10,263.90 542.30,258.76 542.50,253.62 542.70,249.70 542.90,248.20 543.10,249.16 543.30,251.55 543.50,254.73 543.70,258.11 543.90,261.06 544.10,262.97 544.30,263.28 544.50,262.10 544.70,259.90 544.90,257.03 545.10,253.89 545.30,250.84 545.50,248.28 545.70,246.57 545.90,246.10 546.10,247.11 546.30,249.32 546.50,252.38 546.70,255.93 546.90,259.62 547.10,263.08 547.30,265.95 547.50,267.89 547.70,268.52 547.90,267.33 548.10,264.66 548.30,261.24 548.50,257.82 548.70,255.17 548.90,254.01 549.10,254.52 549.30,255.92 549.50,257.76 549.70,259.63 549.90,261.06 550.10,261.63 550.30,261.35 550.50,260.64 550.70,259.62 550.90,258.43 551.10,257.20 551.30,256.07 551.50,255.18 551.70,254.66 551.90,254.65 552.10,255.26 552.30,256.36 552.50,257.78 552.70,259.38 552.90,260.98 553.10,262.44 553.30,263.59 553.50,264.27 553.70,264.27 553.90,263.18 554.10,261.18 554.30,258.58 554.50,255.69 554.70,252.82 554.90,250.29 555.10,248.41 555.30,247.48 555.50,247.98 555.70,250.17 555.90,253.48 556.10,257.32 556.30,261.10 556.50,264.24 556.70,266.13 556.90,266.25 557.10,264.93 557.30,262.63 557.50,259.78 557.70,256.82 557.90,254.17 558.10,252.26 558.30,251.52 558.50,252.25 558.70,254.20 558.90,256.97 559.10,260.18 559.30,263.44 559.50,266.35 559.70,268.53 559.90,269.60 560.10,269.10 560.30,267.01 560.50,263.87 560.70,260.25 560.90,256.70 561.10,253.79 561.30,252.07 561.50,251.94 561.70,252.72 561.90,254.08 562.10,255.82 562.30,257.75 562.50,259.65 562.70,261.34 562.90,262.61 563.10,263.25 563.30,262.90 563.50,261.13 563.70,258.36 563.90,255.06 564.10,251.69 564.30,248.72 564.50,246.63 564.70,245.88 564.90,247.78 565.10,252.42 565.30,258.66 565.50,265.39 565.70,271.47 565.90,275.78 566.10,277.17 566.30,274.43 566.50,268.45 566.70,260.94 566.90,253.61 567.10,248.18 567.30,246.34 567.50,248.06 567.70,251.99 567.90,257.21 568.10,262.83 568.30,267.94 568.50,271.64 568.70,273.03 568.90,271.58 569.10,267.86 569.30,262.66 569.50,256.77 569.70,250.98 569.90,246.06 570.10,242.82 570.30,242.01 570.50,243.72 570.70,247.28 570.90,251.96 571.10,257.09 571.30,261.95 571.50,265.85 571.70,268.09 571.90,268.18 572.10,266.93 572.30,264.78 572.50,262.07 572.70,259.14 572.90,256.31 573.10,253.92 573.30,252.31 573.50,251.79 573.70,252.57 573.90,254.38 574.10,256.90 574.30,259.80 574.50,262.76 574.70,265.45 574.90,267.53 575.10,268.69 575.30,268.05 575.50,263.50 575.70,256.38 575.90,248.46 576.10,241.48 576.30,237.21 576.50,237.17 576.70,240.69 576.90,246.52 577.10,253.48 577.30,260.40 577.50,266.10 577.70,269.41 577.90,269.15 578.10,265.15 578.30,258.84 578.50,251.72 578.70,245.34 578.90,241.21 579.10,240.71 579.30,243.28 579.50,247.85 579.70,253.50 579.90,259.31 580.10,264.36 580.30,267.72 580.50,268.50 580.70,266.58 580.90,262.83 581.10,258.13 581.30,253.37 581.50,249.43 581.70,247.20 581.90,247.36 582.10,249.38 582.30,252.73 582.50,256.90 582.70,261.39 582.90,265.72 583.10,269.38 583.30,271.89 583.50,272.73 583.70,271.74 583.90,269.33 584.10,265.91 584.30,261.92 584.50,257.79 584.70,253.94 584.90,250.79 585.10,248.78 585.30,248.36 585.50,250.27 585.70,253.94 585.90,258.41 586.10,262.73 586.30,265.93 586.50,267.06 586.70,265.86 586.90,263.08 587.10,259.46 587.30,255.72 587.50,252.57 587.70,250.73 587.90,250.88 588.10,253.03 588.30,256.68 588.50,261.28 588.70,266.33 588.90,271.29 589.10,275.63 589.30,278.84 589.50,280.38 589.70,279.48 589.90,275.81 590.10,270.24 590.30,263.73 590.50,257.19 590.70,251.57 590.90,247.79 591.10,246.75 591.30,248.19 591.50,251.18 591.70,255.06 591.90,259.16 592.10,262.82 592.30,265.36 592.50,266.13 592.70,264.69 592.90,261.55 593.10,257.43 593.30,253.06 593.50,249.15 593.70,246.42 593.90,245.58 594.10,246.54 594.30,248.74 594.50,251.79 594.70,255.34 594.90,259.00 595.10,262.42 595.30,265.21 595.50,267.02 595.70,267.45 595.90,265.80 596.10,262.32 596.30,257.59 596.50,252.22 596.70,246.81 596.90,241.96 597.10,238.25 597.30,236.30 597.50,237.16 597.70,242.12 597.90,249.91 598.10,259.06 598.30,268.10 598.50,275.56 598.70,279.97 598.90,279.94 599.10,275.46 599.30,268.06 599.50,259.28 599.70,250.72 599.90,243.93 600.10,240.48 600.30,241.14 600.50,244.34 600.70,249.35 600.90,255.49 601.10,262.10 601.30,268.48 601.50,273.97 601.70,277.89 601.90,279.57 602.10,278.11 602.30,273.68 602.50,267.46 602.70,260.69 602.90,254.58 603.10,250.34 603.30,249.16 603.50,250.48 603.70,253.26 603.90,256.97 604.10,261.05 604.30,264.95 604.50,268.12 604.70,270.00 604.90,269.92 605.10,267.03 605.30,262.07 605.50,256.01 605.70,249.82 605.90,244.48 606.10,240.96 606.30,240.22 606.50,242.46 606.70,246.98 606.90,253.05 607.10,259.92 607.30,266.87 607.50,273.15 607.70,278.03 607.90,280.77 608.10,280.18 608.30,274.26 608.50,264.69 608.70,253.63 608.90,243.22 609.10,235.59 609.30,232.88 609.50,235.20 609.70,240.70 609.90,248.15 610.10,256.32 610.30,263.96 610.50,269.85 610.70,272.74 610.90,271.68 611.10,267.31 611.30,260.86 611.50,253.53 611.70,246.55 611.90,241.11 612.10,238.44 612.30,240.08 612.50,246.27 612.70,255.05 612.90,264.41 613.10,272.34 613.30,276.83 613.50,276.41 613.70,272.39 613.90,266.06 614.10,258.61 614.30,251.24 614.50,245.13 614.70,241.46 614.90,241.43 615.10,245.10 615.30,251.06 615.50,257.79 615.70,263.78 615.90,267.50 616.10,267.71 616.30,265.32 616.50,261.27 616.70,256.33 616.90,251.27 617.10,246.86 617.30,243.88 617.50,243.08 617.70,244.74 617.90,248.21 618.10,252.76 618.30,257.66 618.50,262.19 618.70,265.61 618.90,267.19 619.10,266.65 619.30,264.74 619.50,261.96 619.70,258.80 619.90,255.75 620.10,253.29 620.30,251.92 620.50,252.24 620.70,254.68 620.90,258.43 621.10,262.59 621.30,266.28 621.50,268.59 621.70,268.71 621.90,266.76 622.10,263.44 622.30,259.42 622.50,255.39 622.70,252.03 622.90,250.01 623.10,249.97 623.30,251.70 623.50,254.64 623.70,258.26 623.90,262.00 624.10,265.33 624.30,267.70 624.50,268.56 624.70,267.37 624.90,264.46 625.10,260.51 625.30,256.22 625.50,252.26 625.70,249.34 625.90,248.14 626.10,248.79 626.30,250.60 626.50,253.13 626.70,255.95 626.90,258.63 627.10,260.73 627.30,261.83 627.50,261.60 627.70,260.25 627.90,258.17 628.10,255.73 628.30,253.30 628.50,251.25 628.70,249.95 628.90,249.83 629.10,251.68 629.30,254.95 629.50,258.82 629.70,262.46 629.90,265.04 630.10,265.75 630.30,265.18 630.50,264.00 630.70,262.44 630.90,260.75 631.10,259.17 631.30,257.94 631.50,257.31 631.70,257.52 631.90,258.63 632.10,260.33 632.30,262.34 632.50,264.34 632.70,266.04 632.90,267.14 633.10,267.28 633.30,265.89 633.50,263.21 633.70,259.72 633.90,255.88 634.10,252.18 634.30,249.09 634.50,247.09 634.70,246.65 634.90,248.03 635.10,250.77 635.30,254.23 635.50,257.82 635.70,260.91 635.90,262.90 636.10,263.18 636.30,261.67 636.50,258.99 636.70,255.79 636.90,252.76 637.10,250.54 637.30,249.81 637.50,250.98 637.70,253.56 637.90,256.86 638.10,260.18 638.30,262.83 638.50,264.12 638.70,263.76 638.90,262.39 639.10,260.36 639.30,257.98 639.50,255.58 639.70,253.47 639.90,251.98 640.10,251.44 640.30,252.04 640.50,253.57 640.70,255.69 640.90,258.08 641.10,260.41 641.30,262.34 641.50,263.55 641.70,263.70 641.90,262.58 642.10,260.53 642.30,257.95 642.50,255.27 642.70,252.89 642.90,251.23 643.10,250.72 643.30,252.80 643.50,257.34 643.70,263.10 643.90,268.87 644.10,273.41 644.30,275.50 644.50,273.79 644.70,268.53 644.90,261.23 645.10,253.42 645.30,246.63 645.50,242.40 645.70,241.99 645.90,244.32 646.10,248.34 646.30,253.27 646.50,258.30 646.70,262.65 646.90,265.50 647.10,266.02 647.30,262.98 647.50,257.34 647.70,250.63 647.90,244.37 648.10,240.10 648.30,239.25 648.50,241.28 648.70,245.23 648.90,250.40 649.10,256.13 649.30,261.74 649.50,266.56 649.70,269.90 649.90,271.10 650.10,269.46 650.30,265.36 650.50,259.65 650.70,253.17 650.90,246.79 651.10,241.35 651.30,237.71 651.50,236.73 651.70,239.09 651.90,244.14 652.10,250.90 652.30,258.35 652.50,265.51 652.70,271.37 652.90,274.94 653.10,275.34 653.30,273.19 653.50,269.23 653.70,264.05 653.90,258.23 654.10,252.36 654.30,247.03 654.50,242.81 654.70,240.29 654.90,240.11 655.10,242.82 655.30,247.78 655.50,254.16 655.70,261.13 655.90,267.85 656.10,273.49 656.30,277.23 656.50,278.21 656.70,275.61 656.90,270.03 657.10,262.51 657.30,254.07 657.50,245.75 657.70,238.59 657.90,233.61 658.10,231.87 658.30,235.40 658.50,243.79 658.70,254.79 658.90,266.18 659.10,275.70 659.30,281.13 659.50,280.54 659.70,274.80 659.90,265.95 660.10,256.04 660.30,247.09 660.50,241.14 660.70,240.16 660.90,244.15 661.10,251.45 661.30,260.40 661.50,269.37 661.70,276.70 661.90,280.74 662.10,279.91 662.30,274.35 662.50,265.73 662.70,255.74 662.90,246.11 663.10,238.56 663.30,234.78 663.50,235.47 663.70,238.69 663.90,243.64 664.10,249.58 664.30,255.77 664.50,261.46 664.70,265.94 664.90,268.45 665.10,268.27 665.30,265.38 665.50,260.56 665.70,254.66 665.90,248.49 666.10,242.91 666.30,238.74 666.50,236.83 666.70,239.18 666.90,246.87 667.10,257.39 667.30,268.15 667.50,276.59 667.70,280.12 667.90,278.48 668.10,274.00 668.30,267.68 668.50,260.52 668.70,253.53 668.90,247.72 669.10,244.09 669.30,243.54 669.50,245.42 669.70,248.93 669.90,253.49 670.10,258.48 670.30,263.32 670.50,267.42 670.70,270.18 670.90,270.99 671.10,269.50 671.30,266.13 671.50,261.49 671.70,256.20 671.90,250.88 672.10,246.14 672.30,242.59 672.50,240.84 672.70,240.81 672.90,241.08 673.10,241.67 673.30,242.65 673.50,244.08 673.70,246.06 673.90,248.65 674.10,251.94 674.30,256.00" fill="none" stroke="#2b2bbf" stroke-width="0.92" stroke-linejoin="round"/>
<rect x="502.80" y="192.00" width="179.70" height="136.00" fill="none" stroke="#111" stroke-width="1.2"/>
<line x1="510.97" y1="328.00" x2="510.97" y2="333.30" stroke="#111" stroke-width="1.2"/>
<text x="510.97" y="349.80" font-size="16" text-anchor="middle" fill="#222">0</text>
<line x1="543.64" y1="328.00" x2="543.64" y2="333.30" stroke="#111" stroke-width="1.2"/>
<text x="543.64" y="349.80" font-size="16" text-anchor="middle" fill="#222">10</text>
<line x1="576.31" y1="328.00" x2="576.31" y2="333.30" stroke="#111" stroke-width="1.2"/>
<text x="576.31" y="349.80" font-size="16" text-anchor="middle" fill="#222">20</text>
<line x1="608.99" y1="328.00" x2="608.99" y2="333.30" stroke="#111" stroke-width="1.2"/>
<text x="608.99" y="349.80" font-size="16" text-anchor="middle" fill="#222">30</text>
<line x1="641.66" y1="328.00" x2="641.66" y2="333.30" stroke="#111" stroke-width="1.2"/>
<text x="641.66" y="349.80" font-size="16" text-anchor="middle" fill="#222">40</text>
<line x1="674.33" y1="328.00" x2="674.33" y2="333.30" stroke="#111" stroke-width="1.2"/>
<text x="674.33" y="349.80" font-size="16" text-anchor="middle" fill="#222">50</text>
<line x1="497.80" y1="328.00" x2="502.80" y2="328.00" stroke="#111" stroke-width="1.2"/>
<text x="492.00" y="333.60" font-size="16" text-anchor="end" fill="#222">0</text>
<line x1="497.80" y1="300.80" x2="502.80" y2="300.80" stroke="#111" stroke-width="1.2"/>
<text x="492.00" y="306.40" font-size="16" text-anchor="end" fill="#222">2</text>
<line x1="497.80" y1="273.60" x2="502.80" y2="273.60" stroke="#111" stroke-width="1.2"/>
<text x="492.00" y="279.20" font-size="16" text-anchor="end" fill="#222">4</text>
<line x1="497.80" y1="246.40" x2="502.80" y2="246.40" stroke="#111" stroke-width="1.2"/>
<text x="492.00" y="252.00" font-size="16" text-anchor="end" fill="#222">6</text>
<line x1="497.80" y1="219.20" x2="502.80" y2="219.20" stroke="#111" stroke-width="1.2"/>
<text x="492.00" y="224.80" font-size="16" text-anchor="end" fill="#222">8</text>
<line x1="497.80" y1="192.00" x2="502.80" y2="192.00" stroke="#111" stroke-width="1.2"/>
<text x="492.00" y="197.60" font-size="16" text-anchor="end" fill="#222">10</text>
<text x="505.40" y="206.40" font-size="18.5" fill="#222">(</text>
<text x="512.70" y="205.80" font-size="16.2" font-style="italic" fill="#222">b</text>
<text x="519.70" y="207.90" font-size="11.5" fill="#222">3</text>
<text x="526.50" y="205.80" font-size="18.5" fill="#222">)</text>
<text transform="translate(141.30,370.9) scale(1.13,1)" font-size="17.4" text-anchor="middle" font-style="italic" fill="#222">λt</text>
<text transform="translate(366.75,370.9) scale(1.13,1)" font-size="17.4" text-anchor="middle" font-style="italic" fill="#222">λt</text>
<text transform="translate(592.35,370.9) scale(1.13,1)" font-size="17.4" text-anchor="middle" font-style="italic" fill="#222">λt</text>
<text transform="translate(22.30,74.40) rotate(-90)" font-size="17" text-anchor="middle" textLength="48.5" lengthAdjust="spacingAndGlyphs" fill="#2a2a2a"><tspan font-style="italic">I</tspan>(<tspan font-style="italic">ρ</tspan>, <tspan font-style="italic">A</tspan>)</text>
<text transform="translate(15.40,260.30) rotate(-90)" font-size="17" text-anchor="middle" textLength="48.5" lengthAdjust="spacingAndGlyphs" fill="#2a2a2a"><tspan font-style="italic">I</tspan>(<tspan font-style="italic">ρ</tspan>, <tspan font-style="italic">A</tspan>)</text>
<rect x="172.00" y="11.00" width="55.10" height="26.50" rx="2" ry="2" fill="#fff" fill-opacity="0.8" stroke="#cfcfcf" stroke-width="0.9"/>
<line x1="175.00" y1="18.00" x2="192.60" y2="18.00" stroke="#2a2a2a" stroke-width="0.95"/>
<line x1="175.00" y1="30.00" x2="192.60" y2="30.00" stroke="#2b2bbf" stroke-width="0.95"/>
<text x="198.40" y="21.00" font-size="9.5" font-style="italic" fill="#333">q</text>
<path d="M207.90 17.40H214.40M207.90 19.50H214.40" stroke="#555" stroke-width="0.7"/>
<text transform="translate(218.00,21.00) scale(1.25,1)" font-size="8.9" fill="#333">0</text>
<text x="198.40" y="33.30" font-size="9.5" font-style="italic" fill="#333">q</text>
<path d="M207.90 29.70H214.40M207.90 31.80H214.40" stroke="#555" stroke-width="0.7"/>
<text transform="translate(218.00,33.30) scale(1.25,1)" font-size="8.9" fill="#333">4</text>
<rect x="397.40" y="11.00" width="55.10" height="26.50" rx="2" ry="2" fill="#fff" fill-opacity="0.8" stroke="#cfcfcf" stroke-width="0.9"/>
<line x1="400.40" y1="18.00" x2="418.00" y2="18.00" stroke="#2a2a2a" stroke-width="0.95"/>
<line x1="400.40" y1="30.00" x2="418.00" y2="30.00" stroke="#2b2bbf" stroke-width="0.95"/>
<text x="423.60" y="21.00" font-size="9.5" font-style="italic" fill="#333">ζ</text>
<path d="M433.30 17.40H439.80M433.30 19.50H439.80" stroke="#555" stroke-width="0.7"/>
<text transform="translate(443.70,21.00) scale(1.25,1)" font-size="8.9" fill="#333">1</text>
<text x="423.60" y="33.30" font-size="9.5" font-style="italic" fill="#333">ζ</text>
<path d="M433.30 29.70H439.80M433.30 31.80H439.80" stroke="#555" stroke-width="0.7"/>
<text transform="translate(443.70,33.30) scale(1.25,1)" font-size="8.9" fill="#333">5</text>
<rect x="611.30" y="11.00" width="67.20" height="26.50" rx="2" ry="2" fill="#fff" fill-opacity="0.8" stroke="#cfcfcf" stroke-width="0.9"/>
<line x1="614.30" y1="18.00" x2="631.90" y2="18.00" stroke="#2a2a2a" stroke-width="0.95"/>
<line x1="614.30" y1="30.00" x2="631.90" y2="30.00" stroke="#2b2bbf" stroke-width="0.95"/>
<text x="638.60" y="21.00" font-size="9.5" font-style="italic" fill="#333">β</text>
<path d="M648.10 17.40H654.60M648.10 19.50H654.60" stroke="#555" stroke-width="0.7"/>
<text transform="translate(658.80,21.00) scale(1.33,1)" font-size="8.9" fill="#333">1/4</text>
<text x="638.60" y="33.30" font-size="9.5" font-style="italic" fill="#333">β</text>
<path d="M648.10 29.70H654.60M648.10 31.80H654.60" stroke="#555" stroke-width="0.7"/>
<text transform="translate(658.80,33.30) scale(1.25,1)" font-size="8.9" fill="#333">4</text>
<rect x="172.00" y="196.20" width="55.10" height="26.50" rx="2" ry="2" fill="#fff" fill-opacity="0.8" stroke="#cfcfcf" stroke-width="0.9"/>
<line x1="175.00" y1="202.50" x2="192.60" y2="202.50" stroke="#2a2a2a" stroke-width="0.95"/>
<line x1="175.00" y1="214.50" x2="192.60" y2="214.50" stroke="#2b2bbf" stroke-width="0.95"/>
<text x="198.40" y="206.20" font-size="9.5" font-style="italic" fill="#333">q</text>
<path d="M207.90 202.60H214.40M207.90 204.70H214.40" stroke="#555" stroke-width="0.7"/>
<text transform="translate(218.00,206.20) scale(1.25,1)" font-size="8.9" fill="#333">0</text>
<text x="198.40" y="218.50" font-size="9.5" font-style="italic" fill="#333">q</text>
<path d="M207.90 214.90H214.40M207.90 217.00H214.40" stroke="#555" stroke-width="0.7"/>
<text transform="translate(218.00,218.50) scale(1.25,1)" font-size="8.9" fill="#333">4</text>
<rect x="397.40" y="196.20" width="55.10" height="26.50" rx="2" ry="2" fill="#fff" fill-opacity="0.8" stroke="#cfcfcf" stroke-width="0.9"/>
<line x1="400.40" y1="202.50" x2="418.00" y2="202.50" stroke="#2a2a2a" stroke-width="0.95"/>
<line x1="400.40" y1="214.50" x2="418.00" y2="214.50" stroke="#2b2bbf" stroke-width="0.95"/>
<text x="423.60" y="206.20" font-size="9.5" font-style="italic" fill="#333">ζ</text>
<path d="M433.30 202.60H439.80M433.30 204.70H439.80" stroke="#555" stroke-width="0.7"/>
<text transform="translate(443.70,206.20) scale(1.25,1)" font-size="8.9" fill="#333">1</text>
<text x="423.60" y="218.50" font-size="9.5" font-style="italic" fill="#333">ζ</text>
<path d="M433.30 214.90H439.80M433.30 217.00H439.80" stroke="#555" stroke-width="0.7"/>
<text transform="translate(443.70,218.50) scale(1.25,1)" font-size="8.9" fill="#333">5</text>
<rect x="611.30" y="196.20" width="67.20" height="26.50" rx="2" ry="2" fill="#fff" fill-opacity="0.8" stroke="#cfcfcf" stroke-width="0.9"/>
<line x1="614.30" y1="202.50" x2="631.90" y2="202.50" stroke="#2a2a2a" stroke-width="0.95"/>
<line x1="614.30" y1="214.50" x2="631.90" y2="214.50" stroke="#2b2bbf" stroke-width="0.95"/>
<text x="638.60" y="206.20" font-size="9.5" font-style="italic" fill="#333">β</text>
<path d="M648.10 202.60H654.60M648.10 204.70H654.60" stroke="#555" stroke-width="0.7"/>
<text transform="translate(658.80,206.20) scale(1.33,1)" font-size="8.9" fill="#333">1/4</text>
<text x="638.60" y="218.50" font-size="9.5" font-style="italic" fill="#333">β</text>
<path d="M648.10 214.90H654.60M648.10 217.00H654.60" stroke="#555" stroke-width="0.7"/>
<text transform="translate(658.80,218.50) scale(1.25,1)" font-size="8.9" fill="#333">4</text>
</svg></body></html>
